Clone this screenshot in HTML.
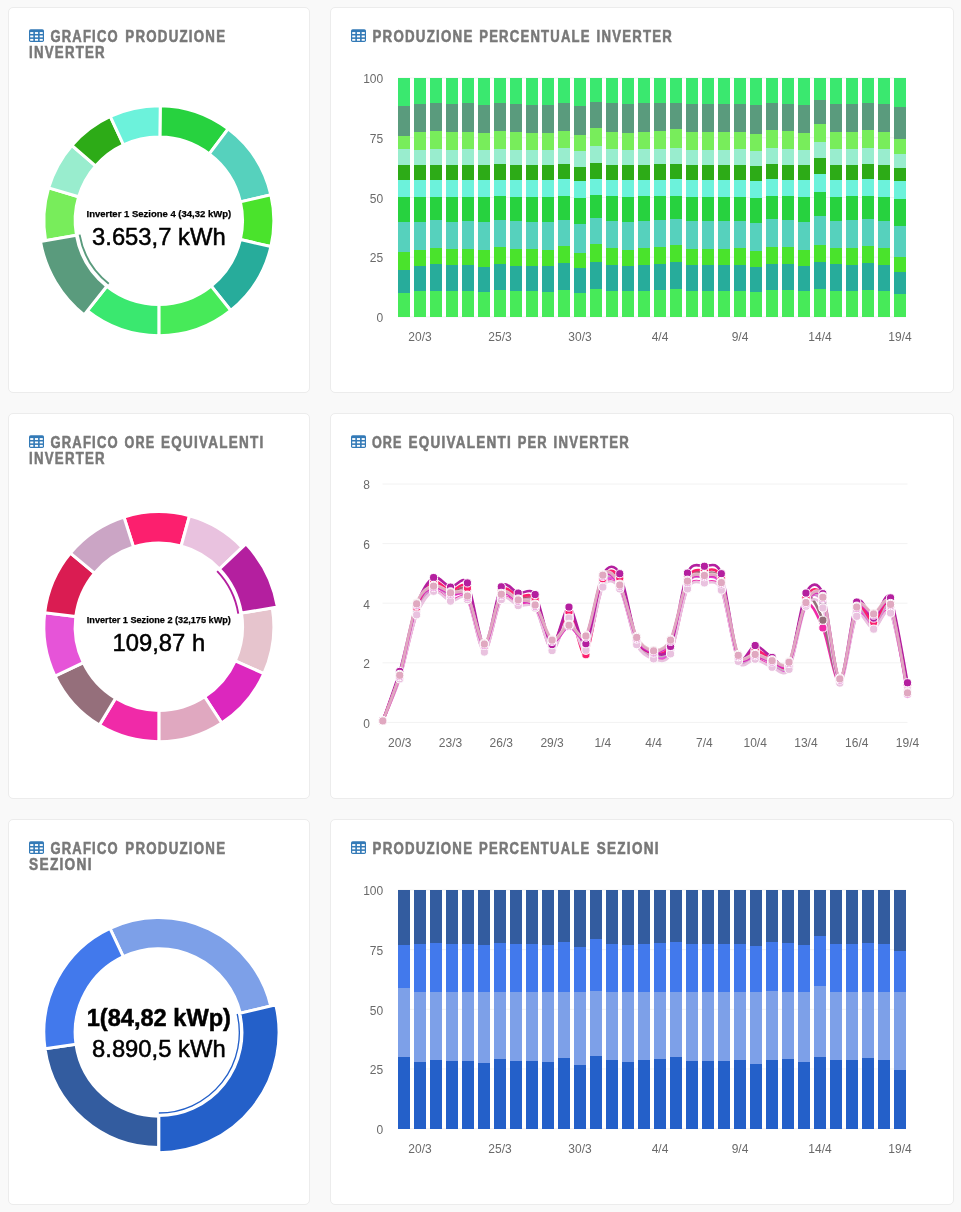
<!DOCTYPE html>
<html lang="it"><head><meta charset="utf-8"><meta name="viewport" content="width=961"><title>Dashboard produzione inverter</title>
<style>
html,body{margin:0;padding:0}
body{width:961px;height:1212px;background:#f9f9f9;overflow:hidden;position:relative;font-family:"Liberation Sans", Arial, Helvetica, sans-serif}
.card{position:absolute;box-sizing:border-box;background:#fff;border:1px solid #ececec;border-radius:5px;overflow:hidden}
.card svg{display:block;font-family:"Liberation Sans", Arial, Helvetica, sans-serif}
.ttl{font-size:16px;font-weight:700;fill:#787878;letter-spacing:1.5px;stroke:#787878;stroke-width:0.55px}
.ax text{font-size:12px;fill:#6a6a6a}
</style></head>
<body>
<section class="card" style="left:8px;top:7px;width:302px;height:386px"><svg width="300" height="384" viewBox="9 8 300 384"><g class="ico"><rect x="29" y="29.25" width="15" height="12.75" rx="1.7" fill="#337ab7"/><rect x="30.2" y="32.1" width="3.13" height="1.85" fill="#fff"/><rect x="30.2" y="35.5" width="3.13" height="1.85" fill="#fff"/><rect x="30.2" y="38.9" width="3.13" height="1.85" fill="#fff"/><rect x="34.93" y="32.1" width="3.13" height="1.85" fill="#fff"/><rect x="34.93" y="35.5" width="3.13" height="1.85" fill="#fff"/><rect x="34.93" y="38.9" width="3.13" height="1.85" fill="#fff"/><rect x="39.67" y="32.1" width="3.13" height="1.85" fill="#fff"/><rect x="39.67" y="35.5" width="3.13" height="1.85" fill="#fff"/><rect x="39.67" y="38.9" width="3.13" height="1.85" fill="#fff"/></g><text class="ttl"><tspan x="50.4" y="41.8" textLength="68.5" lengthAdjust="spacingAndGlyphs">GRAFICO</tspan> <tspan x="125.3" y="41.8" textLength="101" lengthAdjust="spacingAndGlyphs">PRODUZIONE</tspan> <tspan x="29.1" y="57.8" textLength="76.7" lengthAdjust="spacingAndGlyphs">INVERTER</tspan></text><g class="donut" stroke="#fff" stroke-width="3" stroke-linejoin="miter"><path d="M160.25 105.71A115 115 0 0 1 228.14 128.92L209.28 153.9A83.7 83.7 0 0 0 159.87 137.01Z" fill="#27d23f"/><path d="M228.14 128.92A115 115 0 0 1 270.9 194.83L240.4 201.87A83.7 83.7 0 0 0 209.28 153.9Z" fill="#56d1bd"/><path d="M270.9 194.83A115 115 0 0 1 270.9 246.57L240.4 239.53A83.7 83.7 0 0 0 240.4 201.87Z" fill="#4ae32c"/><path d="M270.9 246.57A115 115 0 0 1 230.75 310.45L211.18 286.02A83.7 83.7 0 0 0 240.4 239.53Z" fill="#27ac9b"/><path d="M230.75 310.45A115 115 0 0 1 158.85 335.7L158.85 304.4A83.7 83.7 0 0 0 211.18 286.02Z" fill="#47ea59"/><path d="M158.85 335.7A115 115 0 0 1 87.34 310.76L106.8 286.25A83.7 83.7 0 0 0 158.85 304.4Z" fill="#3ae86f"/><path d="M45.6 240.67A115 115 0 0 1 48.64 187.85L78.64 196.79A83.7 83.7 0 0 0 76.42 235.23Z" fill="#78ed5b"/><path d="M48.64 187.85A115 115 0 0 1 71.86 145.48L95.54 165.95A83.7 83.7 0 0 0 78.64 196.79Z" fill="#99edce"/><path d="M71.86 145.48A115 115 0 0 1 110.25 116.47L123.48 144.84A83.7 83.7 0 0 0 95.54 165.95Z" fill="#2dab17"/><path d="M110.25 116.47A115 115 0 0 1 160.25 105.71L159.87 137.01A83.7 83.7 0 0 0 123.48 144.84Z" fill="#6cf2db"/><path d="M84.11 314.83A120.2 120.2 0 0 1 40.48 241.57L76.42 235.23A83.7 83.7 0 0 0 106.8 286.25Z" fill="#5a9b7d"/></g><path d="M108.79 283.74A80.5 80.5 0 0 1 79.57 234.68" fill="none" stroke="#5a9b7d" stroke-width="1.9"/><text x="158.85" y="217" text-anchor="middle" font-size="9.5" font-weight="700" fill="#000" stroke="#000" stroke-width="0.25">Inverter 1 Sezione 4 (34,32 kWp)</text><text x="158.85" y="245.2" text-anchor="middle" font-size="23.8" font-weight="400" fill="#000" stroke="#000" stroke-width="0.5">3.653,7 kWh</text></svg></section>
<section class="card" style="left:330px;top:7px;width:624px;height:386px"><svg width="622" height="384" viewBox="331 8 622 384"><g class="ico"><rect x="351" y="29.25" width="15" height="12.75" rx="1.7" fill="#337ab7"/><rect x="352.2" y="32.1" width="3.13" height="1.85" fill="#fff"/><rect x="352.2" y="35.5" width="3.13" height="1.85" fill="#fff"/><rect x="352.2" y="38.9" width="3.13" height="1.85" fill="#fff"/><rect x="356.93" y="32.1" width="3.13" height="1.85" fill="#fff"/><rect x="356.93" y="35.5" width="3.13" height="1.85" fill="#fff"/><rect x="356.93" y="38.9" width="3.13" height="1.85" fill="#fff"/><rect x="361.67" y="32.1" width="3.13" height="1.85" fill="#fff"/><rect x="361.67" y="35.5" width="3.13" height="1.85" fill="#fff"/><rect x="361.67" y="38.9" width="3.13" height="1.85" fill="#fff"/></g><text class="ttl"><tspan x="372.5" y="41.8" textLength="101" lengthAdjust="spacingAndGlyphs">PRODUZIONE</tspan> <tspan x="479.2" y="41.8" textLength="111.6" lengthAdjust="spacingAndGlyphs">PERCENTUALE</tspan> <tspan x="596.6" y="41.8" textLength="76.4" lengthAdjust="spacingAndGlyphs">INVERTER</tspan></text><g stroke="#f2f2f2" stroke-width="1"><line x1="398" x2="906" y1="78" y2="78"/><line x1="398" x2="906" y1="137.72" y2="137.72"/><line x1="398" x2="906" y1="197.45" y2="197.45"/><line x1="398" x2="906" y1="257.17" y2="257.17"/><line x1="398" x2="906" y1="316.9" y2="316.9"/></g><g class="bars" shape-rendering="crispEdges"><rect x="398" y="78" width="11.8" height="27.63" fill="#3ae86f"/><rect x="398" y="105.63" width="11.8" height="30.07" fill="#5a9b7d"/><rect x="398" y="135.69" width="11.8" height="13.54" fill="#78ed5b"/><rect x="398" y="149.24" width="11.8" height="16.25" fill="#99edce"/><rect x="398" y="165.49" width="11.8" height="14.63" fill="#2dab17"/><rect x="398" y="180.11" width="11.8" height="17.06" fill="#6cf2db"/><rect x="398" y="197.18" width="11.8" height="24.38" fill="#27d23f"/><rect x="398" y="221.56" width="11.8" height="30.61" fill="#56d1bd"/><rect x="398" y="252.16" width="11.8" height="17.34" fill="#4ae32c"/><rect x="398" y="269.5" width="11.8" height="23.29" fill="#27ac9b"/><rect x="398" y="292.79" width="11.8" height="24.11" fill="#47ea59"/><rect x="414" y="78" width="11.8" height="26" fill="#3ae86f"/><rect x="414" y="104" width="11.8" height="28.44" fill="#5a9b7d"/><rect x="414" y="132.44" width="11.8" height="17.34" fill="#78ed5b"/><rect x="414" y="149.78" width="11.8" height="15.44" fill="#99edce"/><rect x="414" y="165.22" width="11.8" height="14.9" fill="#2dab17"/><rect x="414" y="180.11" width="11.8" height="16.52" fill="#6cf2db"/><rect x="414" y="196.64" width="11.8" height="24.92" fill="#27d23f"/><rect x="414" y="221.56" width="11.8" height="28.44" fill="#56d1bd"/><rect x="414" y="250" width="11.8" height="15.71" fill="#4ae32c"/><rect x="414" y="265.71" width="11.8" height="25.73" fill="#27ac9b"/><rect x="414" y="291.44" width="11.8" height="25.46" fill="#47ea59"/><rect x="430" y="78" width="11.8" height="25.46" fill="#3ae86f"/><rect x="430" y="103.46" width="11.8" height="27.9" fill="#5a9b7d"/><rect x="430" y="131.36" width="11.8" height="17.88" fill="#78ed5b"/><rect x="430" y="149.24" width="11.8" height="15.44" fill="#99edce"/><rect x="430" y="164.68" width="11.8" height="15.17" fill="#2dab17"/><rect x="430" y="179.84" width="11.8" height="16.79" fill="#6cf2db"/><rect x="430" y="196.64" width="11.8" height="23.84" fill="#27d23f"/><rect x="430" y="220.47" width="11.8" height="27.36" fill="#56d1bd"/><rect x="430" y="247.83" width="11.8" height="16.25" fill="#4ae32c"/><rect x="430" y="264.08" width="11.8" height="26.54" fill="#27ac9b"/><rect x="430" y="290.63" width="11.8" height="26.27" fill="#47ea59"/><rect x="446" y="78" width="11.8" height="26.27" fill="#3ae86f"/><rect x="446" y="104.27" width="11.8" height="28.17" fill="#5a9b7d"/><rect x="446" y="132.44" width="11.8" height="17.34" fill="#78ed5b"/><rect x="446" y="149.78" width="11.8" height="15.17" fill="#99edce"/><rect x="446" y="164.95" width="11.8" height="14.9" fill="#2dab17"/><rect x="446" y="179.84" width="11.8" height="16.79" fill="#6cf2db"/><rect x="446" y="196.64" width="11.8" height="24.92" fill="#27d23f"/><rect x="446" y="221.56" width="11.8" height="27.9" fill="#56d1bd"/><rect x="446" y="249.46" width="11.8" height="15.98" fill="#4ae32c"/><rect x="446" y="265.44" width="11.8" height="25.73" fill="#27ac9b"/><rect x="446" y="291.17" width="11.8" height="25.73" fill="#47ea59"/><rect x="462" y="78" width="11.8" height="25.46" fill="#3ae86f"/><rect x="462" y="103.46" width="11.8" height="28.44" fill="#5a9b7d"/><rect x="462" y="131.9" width="11.8" height="17.34" fill="#78ed5b"/><rect x="462" y="149.24" width="11.8" height="15.44" fill="#99edce"/><rect x="462" y="164.68" width="11.8" height="15.17" fill="#2dab17"/><rect x="462" y="179.84" width="11.8" height="16.79" fill="#6cf2db"/><rect x="462" y="196.64" width="11.8" height="24.38" fill="#27d23f"/><rect x="462" y="221.01" width="11.8" height="27.63" fill="#56d1bd"/><rect x="462" y="248.64" width="11.8" height="16.25" fill="#4ae32c"/><rect x="462" y="264.89" width="11.8" height="26.27" fill="#27ac9b"/><rect x="462" y="291.17" width="11.8" height="25.73" fill="#47ea59"/><rect x="478" y="78" width="11.8" height="26.54" fill="#3ae86f"/><rect x="478" y="104.54" width="11.8" height="28.71" fill="#5a9b7d"/><rect x="478" y="133.26" width="11.8" height="16.79" fill="#78ed5b"/><rect x="478" y="150.05" width="11.8" height="15.17" fill="#99edce"/><rect x="478" y="165.22" width="11.8" height="14.9" fill="#2dab17"/><rect x="478" y="180.11" width="11.8" height="16.79" fill="#6cf2db"/><rect x="478" y="196.91" width="11.8" height="25.19" fill="#27d23f"/><rect x="478" y="222.1" width="11.8" height="28.17" fill="#56d1bd"/><rect x="478" y="250.27" width="11.8" height="16.25" fill="#4ae32c"/><rect x="478" y="266.52" width="11.8" height="25.19" fill="#27ac9b"/><rect x="478" y="291.71" width="11.8" height="25.19" fill="#47ea59"/><rect x="494" y="78" width="11.8" height="25.46" fill="#3ae86f"/><rect x="494" y="103.46" width="11.8" height="27.63" fill="#5a9b7d"/><rect x="494" y="131.09" width="11.8" height="17.61" fill="#78ed5b"/><rect x="494" y="148.69" width="11.8" height="15.71" fill="#99edce"/><rect x="494" y="164.4" width="11.8" height="15.17" fill="#2dab17"/><rect x="494" y="179.57" width="11.8" height="16.79" fill="#6cf2db"/><rect x="494" y="196.37" width="11.8" height="23.84" fill="#27d23f"/><rect x="494" y="220.2" width="11.8" height="27.09" fill="#56d1bd"/><rect x="494" y="247.29" width="11.8" height="16.52" fill="#4ae32c"/><rect x="494" y="263.81" width="11.8" height="26.54" fill="#27ac9b"/><rect x="494" y="290.36" width="11.8" height="26.54" fill="#47ea59"/><rect x="510" y="78" width="11.8" height="26.27" fill="#3ae86f"/><rect x="510" y="104.27" width="11.8" height="27.9" fill="#5a9b7d"/><rect x="510" y="132.17" width="11.8" height="17.34" fill="#78ed5b"/><rect x="510" y="149.51" width="11.8" height="15.44" fill="#99edce"/><rect x="510" y="164.95" width="11.8" height="14.9" fill="#2dab17"/><rect x="510" y="179.84" width="11.8" height="16.79" fill="#6cf2db"/><rect x="510" y="196.64" width="11.8" height="24.38" fill="#27d23f"/><rect x="510" y="221.01" width="11.8" height="28.17" fill="#56d1bd"/><rect x="510" y="249.18" width="11.8" height="16.52" fill="#4ae32c"/><rect x="510" y="265.71" width="11.8" height="25.73" fill="#27ac9b"/><rect x="510" y="291.44" width="11.8" height="25.46" fill="#47ea59"/><rect x="526" y="78" width="11.8" height="26.54" fill="#3ae86f"/><rect x="526" y="104.54" width="11.8" height="28.44" fill="#5a9b7d"/><rect x="526" y="132.98" width="11.8" height="17.06" fill="#78ed5b"/><rect x="526" y="150.05" width="11.8" height="15.17" fill="#99edce"/><rect x="526" y="165.22" width="11.8" height="14.9" fill="#2dab17"/><rect x="526" y="180.11" width="11.8" height="16.79" fill="#6cf2db"/><rect x="526" y="196.91" width="11.8" height="24.65" fill="#27d23f"/><rect x="526" y="221.56" width="11.8" height="27.9" fill="#56d1bd"/><rect x="526" y="249.46" width="11.8" height="16.52" fill="#4ae32c"/><rect x="526" y="265.98" width="11.8" height="25.46" fill="#27ac9b"/><rect x="526" y="291.44" width="11.8" height="25.46" fill="#47ea59"/><rect x="542" y="78" width="11.8" height="26.54" fill="#3ae86f"/><rect x="542" y="104.54" width="11.8" height="28.44" fill="#5a9b7d"/><rect x="542" y="132.98" width="11.8" height="17.06" fill="#78ed5b"/><rect x="542" y="150.05" width="11.8" height="15.17" fill="#99edce"/><rect x="542" y="165.22" width="11.8" height="14.9" fill="#2dab17"/><rect x="542" y="180.11" width="11.8" height="17.06" fill="#6cf2db"/><rect x="542" y="197.18" width="11.8" height="24.92" fill="#27d23f"/><rect x="542" y="222.1" width="11.8" height="27.9" fill="#56d1bd"/><rect x="542" y="250" width="11.8" height="16.25" fill="#4ae32c"/><rect x="542" y="266.25" width="11.8" height="25.46" fill="#27ac9b"/><rect x="542" y="291.71" width="11.8" height="25.19" fill="#47ea59"/><rect x="558" y="78" width="11.8" height="25.46" fill="#3ae86f"/><rect x="558" y="103.46" width="11.8" height="27.09" fill="#5a9b7d"/><rect x="558" y="130.55" width="11.8" height="17.61" fill="#78ed5b"/><rect x="558" y="148.15" width="11.8" height="15.98" fill="#99edce"/><rect x="558" y="164.13" width="11.8" height="15.17" fill="#2dab17"/><rect x="558" y="179.3" width="11.8" height="16.79" fill="#6cf2db"/><rect x="558" y="196.1" width="11.8" height="23.56" fill="#27d23f"/><rect x="558" y="219.66" width="11.8" height="26.82" fill="#56d1bd"/><rect x="558" y="246.48" width="11.8" height="16.79" fill="#4ae32c"/><rect x="558" y="263.27" width="11.8" height="26.82" fill="#27ac9b"/><rect x="558" y="290.08" width="11.8" height="26.82" fill="#47ea59"/><rect x="574" y="78" width="11.8" height="27.63" fill="#3ae86f"/><rect x="574" y="105.63" width="11.8" height="29.52" fill="#5a9b7d"/><rect x="574" y="135.15" width="11.8" height="16.25" fill="#78ed5b"/><rect x="574" y="151.4" width="11.8" height="15.17" fill="#99edce"/><rect x="574" y="166.57" width="11.8" height="14.08" fill="#2dab17"/><rect x="574" y="180.66" width="11.8" height="17.61" fill="#6cf2db"/><rect x="574" y="198.26" width="11.8" height="25.46" fill="#27d23f"/><rect x="574" y="223.72" width="11.8" height="29.25" fill="#56d1bd"/><rect x="574" y="252.98" width="11.8" height="15.44" fill="#4ae32c"/><rect x="574" y="268.42" width="11.8" height="24.11" fill="#27ac9b"/><rect x="574" y="292.52" width="11.8" height="24.38" fill="#47ea59"/><rect x="590" y="78" width="11.8" height="23.84" fill="#3ae86f"/><rect x="590" y="101.84" width="11.8" height="25.73" fill="#5a9b7d"/><rect x="590" y="127.57" width="11.8" height="18.42" fill="#78ed5b"/><rect x="590" y="145.99" width="11.8" height="16.79" fill="#99edce"/><rect x="590" y="162.78" width="11.8" height="15.98" fill="#2dab17"/><rect x="590" y="178.76" width="11.8" height="16.25" fill="#6cf2db"/><rect x="590" y="195.01" width="11.8" height="23.02" fill="#27d23f"/><rect x="590" y="218.04" width="11.8" height="25.73" fill="#56d1bd"/><rect x="590" y="243.77" width="11.8" height="17.88" fill="#4ae32c"/><rect x="590" y="261.64" width="11.8" height="27.36" fill="#27ac9b"/><rect x="590" y="289" width="11.8" height="27.9" fill="#47ea59"/><rect x="606" y="78" width="11.8" height="25.46" fill="#3ae86f"/><rect x="606" y="103.46" width="11.8" height="28.17" fill="#5a9b7d"/><rect x="606" y="131.63" width="11.8" height="17.34" fill="#78ed5b"/><rect x="606" y="148.97" width="11.8" height="15.71" fill="#99edce"/><rect x="606" y="164.68" width="11.8" height="14.9" fill="#2dab17"/><rect x="606" y="179.57" width="11.8" height="16.79" fill="#6cf2db"/><rect x="606" y="196.37" width="11.8" height="24.38" fill="#27d23f"/><rect x="606" y="220.74" width="11.8" height="27.36" fill="#56d1bd"/><rect x="606" y="248.1" width="11.8" height="16.52" fill="#4ae32c"/><rect x="606" y="264.62" width="11.8" height="26" fill="#27ac9b"/><rect x="606" y="290.63" width="11.8" height="26.27" fill="#47ea59"/><rect x="622" y="78" width="11.8" height="26.27" fill="#3ae86f"/><rect x="622" y="104.27" width="11.8" height="28.71" fill="#5a9b7d"/><rect x="622" y="132.98" width="11.8" height="17.06" fill="#78ed5b"/><rect x="622" y="150.05" width="11.8" height="15.17" fill="#99edce"/><rect x="622" y="165.22" width="11.8" height="14.9" fill="#2dab17"/><rect x="622" y="180.11" width="11.8" height="17.06" fill="#6cf2db"/><rect x="622" y="197.18" width="11.8" height="24.65" fill="#27d23f"/><rect x="622" y="221.83" width="11.8" height="27.9" fill="#56d1bd"/><rect x="622" y="249.73" width="11.8" height="16.52" fill="#4ae32c"/><rect x="622" y="266.25" width="11.8" height="25.19" fill="#27ac9b"/><rect x="622" y="291.44" width="11.8" height="25.46" fill="#47ea59"/><rect x="638" y="78" width="11.8" height="25.46" fill="#3ae86f"/><rect x="638" y="103.46" width="11.8" height="28.17" fill="#5a9b7d"/><rect x="638" y="131.63" width="11.8" height="17.34" fill="#78ed5b"/><rect x="638" y="148.97" width="11.8" height="15.71" fill="#99edce"/><rect x="638" y="164.68" width="11.8" height="14.9" fill="#2dab17"/><rect x="638" y="179.57" width="11.8" height="16.79" fill="#6cf2db"/><rect x="638" y="196.37" width="11.8" height="24.38" fill="#27d23f"/><rect x="638" y="220.74" width="11.8" height="27.09" fill="#56d1bd"/><rect x="638" y="247.83" width="11.8" height="16.79" fill="#4ae32c"/><rect x="638" y="264.62" width="11.8" height="26" fill="#27ac9b"/><rect x="638" y="290.63" width="11.8" height="26.27" fill="#47ea59"/><rect x="654" y="78" width="11.8" height="25.46" fill="#3ae86f"/><rect x="654" y="103.46" width="11.8" height="27.63" fill="#5a9b7d"/><rect x="654" y="131.09" width="11.8" height="17.61" fill="#78ed5b"/><rect x="654" y="148.69" width="11.8" height="15.71" fill="#99edce"/><rect x="654" y="164.4" width="11.8" height="15.17" fill="#2dab17"/><rect x="654" y="179.57" width="11.8" height="16.79" fill="#6cf2db"/><rect x="654" y="196.37" width="11.8" height="23.84" fill="#27d23f"/><rect x="654" y="220.2" width="11.8" height="26.54" fill="#56d1bd"/><rect x="654" y="246.75" width="11.8" height="17.06" fill="#4ae32c"/><rect x="654" y="263.81" width="11.8" height="26.54" fill="#27ac9b"/><rect x="654" y="290.36" width="11.8" height="26.54" fill="#47ea59"/><rect x="670" y="78" width="11.8" height="24.65" fill="#3ae86f"/><rect x="670" y="102.65" width="11.8" height="26.54" fill="#5a9b7d"/><rect x="670" y="129.19" width="11.8" height="18.42" fill="#78ed5b"/><rect x="670" y="147.61" width="11.8" height="15.98" fill="#99edce"/><rect x="670" y="163.59" width="11.8" height="15.44" fill="#2dab17"/><rect x="670" y="179.03" width="11.8" height="16.52" fill="#6cf2db"/><rect x="670" y="195.55" width="11.8" height="23.29" fill="#27d23f"/><rect x="670" y="218.85" width="11.8" height="26" fill="#56d1bd"/><rect x="670" y="244.85" width="11.8" height="17.34" fill="#4ae32c"/><rect x="670" y="262.19" width="11.8" height="27.09" fill="#27ac9b"/><rect x="670" y="289.27" width="11.8" height="27.63" fill="#47ea59"/><rect x="686" y="78" width="11.8" height="26.27" fill="#3ae86f"/><rect x="686" y="104.27" width="11.8" height="28.17" fill="#5a9b7d"/><rect x="686" y="132.44" width="11.8" height="17.06" fill="#78ed5b"/><rect x="686" y="149.51" width="11.8" height="15.44" fill="#99edce"/><rect x="686" y="164.95" width="11.8" height="14.9" fill="#2dab17"/><rect x="686" y="179.84" width="11.8" height="16.79" fill="#6cf2db"/><rect x="686" y="196.64" width="11.8" height="24.65" fill="#27d23f"/><rect x="686" y="221.29" width="11.8" height="27.63" fill="#56d1bd"/><rect x="686" y="248.91" width="11.8" height="16.52" fill="#4ae32c"/><rect x="686" y="265.44" width="11.8" height="25.73" fill="#27ac9b"/><rect x="686" y="291.17" width="11.8" height="25.73" fill="#47ea59"/><rect x="702" y="78" width="11.8" height="26.27" fill="#3ae86f"/><rect x="702" y="104.27" width="11.8" height="28.17" fill="#5a9b7d"/><rect x="702" y="132.44" width="11.8" height="17.06" fill="#78ed5b"/><rect x="702" y="149.51" width="11.8" height="15.44" fill="#99edce"/><rect x="702" y="164.95" width="11.8" height="14.9" fill="#2dab17"/><rect x="702" y="179.84" width="11.8" height="16.79" fill="#6cf2db"/><rect x="702" y="196.64" width="11.8" height="24.65" fill="#27d23f"/><rect x="702" y="221.29" width="11.8" height="27.63" fill="#56d1bd"/><rect x="702" y="248.91" width="11.8" height="16.52" fill="#4ae32c"/><rect x="702" y="265.44" width="11.8" height="25.73" fill="#27ac9b"/><rect x="702" y="291.17" width="11.8" height="25.73" fill="#47ea59"/><rect x="718" y="78" width="11.8" height="26.27" fill="#3ae86f"/><rect x="718" y="104.27" width="11.8" height="28.17" fill="#5a9b7d"/><rect x="718" y="132.44" width="11.8" height="17.06" fill="#78ed5b"/><rect x="718" y="149.51" width="11.8" height="15.44" fill="#99edce"/><rect x="718" y="164.95" width="11.8" height="14.9" fill="#2dab17"/><rect x="718" y="179.84" width="11.8" height="16.79" fill="#6cf2db"/><rect x="718" y="196.64" width="11.8" height="24.38" fill="#27d23f"/><rect x="718" y="221.01" width="11.8" height="27.63" fill="#56d1bd"/><rect x="718" y="248.64" width="11.8" height="16.79" fill="#4ae32c"/><rect x="718" y="265.44" width="11.8" height="25.73" fill="#27ac9b"/><rect x="718" y="291.17" width="11.8" height="25.73" fill="#47ea59"/><rect x="734" y="78" width="11.8" height="25.73" fill="#3ae86f"/><rect x="734" y="103.73" width="11.8" height="28.17" fill="#5a9b7d"/><rect x="734" y="131.9" width="11.8" height="17.34" fill="#78ed5b"/><rect x="734" y="149.24" width="11.8" height="15.44" fill="#99edce"/><rect x="734" y="164.68" width="11.8" height="14.9" fill="#2dab17"/><rect x="734" y="179.57" width="11.8" height="17.06" fill="#6cf2db"/><rect x="734" y="196.64" width="11.8" height="24.11" fill="#27d23f"/><rect x="734" y="220.74" width="11.8" height="27.09" fill="#56d1bd"/><rect x="734" y="247.83" width="11.8" height="16.79" fill="#4ae32c"/><rect x="734" y="264.62" width="11.8" height="26" fill="#27ac9b"/><rect x="734" y="290.63" width="11.8" height="26.27" fill="#47ea59"/><rect x="750" y="78" width="11.8" height="27.36" fill="#3ae86f"/><rect x="750" y="105.36" width="11.8" height="28.98" fill="#5a9b7d"/><rect x="750" y="134.34" width="11.8" height="16.52" fill="#78ed5b"/><rect x="750" y="150.86" width="11.8" height="15.17" fill="#99edce"/><rect x="750" y="166.03" width="11.8" height="14.63" fill="#2dab17"/><rect x="750" y="180.66" width="11.8" height="17.06" fill="#6cf2db"/><rect x="750" y="197.72" width="11.8" height="25.19" fill="#27d23f"/><rect x="750" y="222.91" width="11.8" height="28.44" fill="#56d1bd"/><rect x="750" y="251.35" width="11.8" height="15.98" fill="#4ae32c"/><rect x="750" y="267.33" width="11.8" height="24.92" fill="#27ac9b"/><rect x="750" y="292.25" width="11.8" height="24.65" fill="#47ea59"/><rect x="766" y="78" width="11.8" height="24.92" fill="#3ae86f"/><rect x="766" y="102.92" width="11.8" height="26.82" fill="#5a9b7d"/><rect x="766" y="129.73" width="11.8" height="17.88" fill="#78ed5b"/><rect x="766" y="147.61" width="11.8" height="15.98" fill="#99edce"/><rect x="766" y="163.59" width="11.8" height="15.17" fill="#2dab17"/><rect x="766" y="178.76" width="11.8" height="16.79" fill="#6cf2db"/><rect x="766" y="195.55" width="11.8" height="23.84" fill="#27d23f"/><rect x="766" y="219.39" width="11.8" height="27.9" fill="#56d1bd"/><rect x="766" y="247.29" width="11.8" height="16.79" fill="#4ae32c"/><rect x="766" y="264.08" width="11.8" height="26" fill="#27ac9b"/><rect x="766" y="290.08" width="11.8" height="26.82" fill="#47ea59"/><rect x="782" y="78" width="11.8" height="25.73" fill="#3ae86f"/><rect x="782" y="103.73" width="11.8" height="27.63" fill="#5a9b7d"/><rect x="782" y="131.36" width="11.8" height="17.61" fill="#78ed5b"/><rect x="782" y="148.97" width="11.8" height="15.71" fill="#99edce"/><rect x="782" y="164.68" width="11.8" height="14.9" fill="#2dab17"/><rect x="782" y="179.57" width="11.8" height="16.79" fill="#6cf2db"/><rect x="782" y="196.37" width="11.8" height="24.11" fill="#27d23f"/><rect x="782" y="220.47" width="11.8" height="26.27" fill="#56d1bd"/><rect x="782" y="246.75" width="11.8" height="17.06" fill="#4ae32c"/><rect x="782" y="263.81" width="11.8" height="26.54" fill="#27ac9b"/><rect x="782" y="290.36" width="11.8" height="26.54" fill="#47ea59"/><rect x="798" y="78" width="11.8" height="26.54" fill="#3ae86f"/><rect x="798" y="104.54" width="11.8" height="28.44" fill="#5a9b7d"/><rect x="798" y="132.98" width="11.8" height="16.79" fill="#78ed5b"/><rect x="798" y="149.78" width="11.8" height="15.44" fill="#99edce"/><rect x="798" y="165.22" width="11.8" height="14.63" fill="#2dab17"/><rect x="798" y="179.84" width="11.8" height="17.06" fill="#6cf2db"/><rect x="798" y="196.91" width="11.8" height="24.92" fill="#27d23f"/><rect x="798" y="221.83" width="11.8" height="27.9" fill="#56d1bd"/><rect x="798" y="249.73" width="11.8" height="16.25" fill="#4ae32c"/><rect x="798" y="265.98" width="11.8" height="25.46" fill="#27ac9b"/><rect x="798" y="291.44" width="11.8" height="25.46" fill="#47ea59"/><rect x="814" y="78" width="11.8" height="21.94" fill="#3ae86f"/><rect x="814" y="99.94" width="11.8" height="23.56" fill="#5a9b7d"/><rect x="814" y="123.5" width="11.8" height="18.42" fill="#78ed5b"/><rect x="814" y="141.92" width="11.8" height="16.52" fill="#99edce"/><rect x="814" y="158.45" width="11.8" height="15.71" fill="#2dab17"/><rect x="814" y="174.16" width="11.8" height="17.61" fill="#6cf2db"/><rect x="814" y="191.76" width="11.8" height="24.38" fill="#27d23f"/><rect x="814" y="216.14" width="11.8" height="28.71" fill="#56d1bd"/><rect x="814" y="244.85" width="11.8" height="17.34" fill="#4ae32c"/><rect x="814" y="262.19" width="11.8" height="27.09" fill="#27ac9b"/><rect x="814" y="289.27" width="11.8" height="27.63" fill="#47ea59"/><rect x="830" y="78" width="11.8" height="25.73" fill="#3ae86f"/><rect x="830" y="103.73" width="11.8" height="27.9" fill="#5a9b7d"/><rect x="830" y="131.63" width="11.8" height="17.34" fill="#78ed5b"/><rect x="830" y="148.97" width="11.8" height="15.71" fill="#99edce"/><rect x="830" y="164.68" width="11.8" height="14.9" fill="#2dab17"/><rect x="830" y="179.57" width="11.8" height="17.06" fill="#6cf2db"/><rect x="830" y="196.64" width="11.8" height="24.11" fill="#27d23f"/><rect x="830" y="220.74" width="11.8" height="26.82" fill="#56d1bd"/><rect x="830" y="247.56" width="11.8" height="16.79" fill="#4ae32c"/><rect x="830" y="264.35" width="11.8" height="26.27" fill="#27ac9b"/><rect x="830" y="290.63" width="11.8" height="26.27" fill="#47ea59"/><rect x="846" y="78" width="11.8" height="25.73" fill="#3ae86f"/><rect x="846" y="103.73" width="11.8" height="28.17" fill="#5a9b7d"/><rect x="846" y="131.9" width="11.8" height="17.34" fill="#78ed5b"/><rect x="846" y="149.24" width="11.8" height="15.44" fill="#99edce"/><rect x="846" y="164.68" width="11.8" height="14.9" fill="#2dab17"/><rect x="846" y="179.57" width="11.8" height="16.79" fill="#6cf2db"/><rect x="846" y="196.37" width="11.8" height="24.11" fill="#27d23f"/><rect x="846" y="220.47" width="11.8" height="27.36" fill="#56d1bd"/><rect x="846" y="247.83" width="11.8" height="16.79" fill="#4ae32c"/><rect x="846" y="264.62" width="11.8" height="26" fill="#27ac9b"/><rect x="846" y="290.63" width="11.8" height="26.27" fill="#47ea59"/><rect x="862" y="78" width="11.8" height="24.92" fill="#3ae86f"/><rect x="862" y="102.92" width="11.8" height="27.36" fill="#5a9b7d"/><rect x="862" y="130.28" width="11.8" height="17.61" fill="#78ed5b"/><rect x="862" y="147.88" width="11.8" height="15.98" fill="#99edce"/><rect x="862" y="163.86" width="11.8" height="15.17" fill="#2dab17"/><rect x="862" y="179.03" width="11.8" height="16.79" fill="#6cf2db"/><rect x="862" y="195.82" width="11.8" height="23.29" fill="#27d23f"/><rect x="862" y="219.12" width="11.8" height="26.54" fill="#56d1bd"/><rect x="862" y="245.66" width="11.8" height="17.06" fill="#4ae32c"/><rect x="862" y="262.73" width="11.8" height="27.09" fill="#27ac9b"/><rect x="862" y="289.81" width="11.8" height="27.09" fill="#47ea59"/><rect x="878" y="78" width="11.8" height="25.73" fill="#3ae86f"/><rect x="878" y="103.73" width="11.8" height="28.17" fill="#5a9b7d"/><rect x="878" y="131.9" width="11.8" height="17.34" fill="#78ed5b"/><rect x="878" y="149.24" width="11.8" height="15.44" fill="#99edce"/><rect x="878" y="164.68" width="11.8" height="14.9" fill="#2dab17"/><rect x="878" y="179.57" width="11.8" height="17.06" fill="#6cf2db"/><rect x="878" y="196.64" width="11.8" height="24.11" fill="#27d23f"/><rect x="878" y="220.74" width="11.8" height="27.09" fill="#56d1bd"/><rect x="878" y="247.83" width="11.8" height="16.79" fill="#4ae32c"/><rect x="878" y="264.62" width="11.8" height="26" fill="#27ac9b"/><rect x="878" y="290.63" width="11.8" height="26.27" fill="#47ea59"/><rect x="894" y="78" width="11.8" height="29.25" fill="#3ae86f"/><rect x="894" y="107.25" width="11.8" height="31.42" fill="#5a9b7d"/><rect x="894" y="138.67" width="11.8" height="14.9" fill="#78ed5b"/><rect x="894" y="153.57" width="11.8" height="14.36" fill="#99edce"/><rect x="894" y="167.93" width="11.8" height="13" fill="#2dab17"/><rect x="894" y="180.93" width="11.8" height="18.15" fill="#6cf2db"/><rect x="894" y="199.08" width="11.8" height="27.09" fill="#27d23f"/><rect x="894" y="226.16" width="11.8" height="31.15" fill="#56d1bd"/><rect x="894" y="257.31" width="11.8" height="14.63" fill="#4ae32c"/><rect x="894" y="271.94" width="11.8" height="22.48" fill="#27ac9b"/><rect x="894" y="294.42" width="11.8" height="22.48" fill="#47ea59"/></g><g class="ax" text-anchor="end"><text x="383.2" y="83.2">100</text><text x="383.2" y="142.92">75</text><text x="383.2" y="202.65">50</text><text x="383.2" y="262.37">25</text><text x="383.2" y="322.1">0</text></g><g class="ax" text-anchor="middle"><text x="420" y="340.8">20/3</text><text x="500" y="340.8">25/3</text><text x="580" y="340.8">30/3</text><text x="660" y="340.8">4/4</text><text x="740" y="340.8">9/4</text><text x="820" y="340.8">14/4</text><text x="900" y="340.8">19/4</text></g></svg></section>
<section class="card" style="left:8px;top:413px;width:302px;height:386px"><svg width="300" height="384" viewBox="9 414 300 384"><g class="ico"><rect x="29" y="435.25" width="15" height="12.75" rx="1.7" fill="#337ab7"/><rect x="30.2" y="438.1" width="3.13" height="1.85" fill="#fff"/><rect x="30.2" y="441.5" width="3.13" height="1.85" fill="#fff"/><rect x="30.2" y="444.9" width="3.13" height="1.85" fill="#fff"/><rect x="34.93" y="438.1" width="3.13" height="1.85" fill="#fff"/><rect x="34.93" y="441.5" width="3.13" height="1.85" fill="#fff"/><rect x="34.93" y="444.9" width="3.13" height="1.85" fill="#fff"/><rect x="39.67" y="438.1" width="3.13" height="1.85" fill="#fff"/><rect x="39.67" y="441.5" width="3.13" height="1.85" fill="#fff"/><rect x="39.67" y="444.9" width="3.13" height="1.85" fill="#fff"/></g><text class="ttl"><tspan x="50.4" y="447.8" textLength="68.5" lengthAdjust="spacingAndGlyphs">GRAFICO</tspan> <tspan x="124.6" y="447.8" textLength="30.7" lengthAdjust="spacingAndGlyphs">ORE</tspan> <tspan x="161" y="447.8" textLength="103.5" lengthAdjust="spacingAndGlyphs">EQUIVALENTI</tspan> <tspan x="29.1" y="463.8" textLength="76.7" lengthAdjust="spacingAndGlyphs">INVERTER</tspan></text><g class="donut" stroke="#fff" stroke-width="3" stroke-linejoin="miter"><path d="M123.98 517.11A115 115 0 0 1 189.49 515.86L181.15 546.02A83.7 83.7 0 0 0 133.47 546.94Z" fill="#fc1f6e"/><path d="M189.49 515.86A115 115 0 0 1 242.13 547.39L219.46 568.98A83.7 83.7 0 0 0 181.15 546.02Z" fill="#e9c2df"/><path d="M272.31 607.92A115 115 0 0 1 263.83 673.66L235.25 660.88A83.7 83.7 0 0 0 241.43 613.03Z" fill="#e6c4cd"/><path d="M263.83 673.66A115 115 0 0 1 221.74 722.98L204.62 696.78A83.7 83.7 0 0 0 235.25 660.88Z" fill="#dc27be"/><path d="M221.74 722.98A115 115 0 0 1 158.85 741.7L158.85 710.4A83.7 83.7 0 0 0 204.62 696.78Z" fill="#e0a8c0"/><path d="M158.85 741.7A115 115 0 0 1 99.36 725.12L115.55 698.33A83.7 83.7 0 0 0 158.85 710.4Z" fill="#f02aa8"/><path d="M99.36 725.12A115 115 0 0 1 55.01 676.12L83.27 662.67A83.7 83.7 0 0 0 115.55 698.33Z" fill="#956f7b"/><path d="M55.01 676.12A115 115 0 0 1 44.7 612.78L75.77 616.57A83.7 83.7 0 0 0 83.27 662.67Z" fill="#e654d8"/><path d="M44.7 612.78A115 115 0 0 1 70.43 553.16L94.5 573.18A83.7 83.7 0 0 0 75.77 616.57Z" fill="#da1c52"/><path d="M70.43 553.16A115 115 0 0 1 123.98 517.11L133.47 546.94A83.7 83.7 0 0 0 94.5 573.18Z" fill="#cba5c5"/><path d="M245.9 543.81A120.2 120.2 0 0 1 277.44 607.07L241.43 613.03A83.7 83.7 0 0 0 219.46 568.98Z" fill="#b41f9f"/></g><path d="M217.15 571.19A80.5 80.5 0 0 1 238.27 613.55" fill="none" stroke="#b41f9f" stroke-width="1.9"/><text x="158.85" y="623" text-anchor="middle" font-size="9.15" font-weight="700" fill="#000" stroke="#000" stroke-width="0.25">Inverter 1 Sezione 2 (32,175 kWp)</text><text x="158.85" y="651.2" text-anchor="middle" font-size="23.8" font-weight="400" fill="#000" stroke="#000" stroke-width="0.5">109,87 h</text></svg></section>
<section class="card" style="left:330px;top:413px;width:624px;height:386px"><svg width="622" height="384" viewBox="331 414 622 384"><g class="ico"><rect x="351" y="435.25" width="15" height="12.75" rx="1.7" fill="#337ab7"/><rect x="352.2" y="438.1" width="3.13" height="1.85" fill="#fff"/><rect x="352.2" y="441.5" width="3.13" height="1.85" fill="#fff"/><rect x="352.2" y="444.9" width="3.13" height="1.85" fill="#fff"/><rect x="356.93" y="438.1" width="3.13" height="1.85" fill="#fff"/><rect x="356.93" y="441.5" width="3.13" height="1.85" fill="#fff"/><rect x="356.93" y="444.9" width="3.13" height="1.85" fill="#fff"/><rect x="361.67" y="438.1" width="3.13" height="1.85" fill="#fff"/><rect x="361.67" y="441.5" width="3.13" height="1.85" fill="#fff"/><rect x="361.67" y="444.9" width="3.13" height="1.85" fill="#fff"/></g><text class="ttl"><tspan x="371.9" y="447.8" textLength="30.8" lengthAdjust="spacingAndGlyphs">ORE</tspan> <tspan x="408.4" y="447.8" textLength="103.6" lengthAdjust="spacingAndGlyphs">EQUIVALENTI</tspan> <tspan x="517.7" y="447.8" textLength="30.2" lengthAdjust="spacingAndGlyphs">PER</tspan> <tspan x="553.6" y="447.8" textLength="76.4" lengthAdjust="spacingAndGlyphs">INVERTER</tspan></text><g stroke="#f2f2f2" stroke-width="1"><line x1="382.5" x2="907.5" y1="484" y2="484"/><line x1="382.5" x2="907.5" y1="543.6" y2="543.6"/><line x1="382.5" x2="907.5" y1="603.2" y2="603.2"/><line x1="382.5" x2="907.5" y1="662.8" y2="662.8"/><line x1="382.5" x2="907.5" y1="722.4" y2="722.4"/></g><g class="lines" fill="none" stroke-width="2.6" stroke-linecap="round"><path d="M382.8,720.91Q396.34,688.7 399.73,678C404.8,661.95 411.57,627.07 416.65,613.93C421.73,600.79 428.5,592.44 433.58,590.39C438.66,588.33 445.43,598.97 450.5,600.22C455.58,601.47 462.35,591.09 467.43,598.73C472.51,606.37 479.28,651.18 484.35,651.18C489.43,651.18 496.2,605.7 501.28,598.73C506.36,591.76 513.13,603.44 518.21,604.69C523.28,605.94 530.05,600.32 535.13,607.07C540.21,613.82 546.98,648.17 552.06,649.69C557.14,651.21 563.91,617.25 568.98,617.21C574.06,617.16 580.83,654.04 585.91,649.39C590.99,644.74 597.76,595.42 602.84,586.21C607.91,577.01 614.68,579.37 619.76,588C624.84,596.63 631.61,633.22 636.69,643.73C641.76,654.23 648.54,656.65 653.61,658.03C658.69,659.42 665.46,663.47 670.54,652.97C675.62,642.46 682.39,598.64 687.46,588C692.54,577.36 699.31,581.86 704.39,582.04C709.47,582.22 716.24,577.44 721.32,589.19C726.39,600.95 733.16,650.05 738.24,660.42C743.32,670.79 750.09,657.44 755.17,658.33C760.25,659.22 767.02,664.86 772.09,666.38C777.17,667.9 783.94,677.63 789.02,668.46C794.1,659.3 800.87,611.37 805.95,605.29C811.02,599.21 817.79,616.4 822.87,627.93C827.95,639.47 834.72,684.05 839.8,682.17C844.87,680.29 851.64,623.51 856.72,615.42C861.8,607.33 868.57,628.72 873.65,628.23C878.73,627.74 885.5,603.07 890.57,612.14Q893.96,618.19 907.5,688.73" stroke="#f02aa8"/><path d="M382.8,720.91Q396.34,686.05 399.73,674.84C404.8,658.02 411.57,622.58 416.65,608.77C421.73,594.96 428.5,585.17 433.58,582.76C438.66,580.35 445.43,591.51 450.5,592.71C455.58,593.91 462.35,582.53 467.43,590.74C472.51,598.96 479.28,647.36 484.35,647.48C489.43,647.6 496.2,598.91 501.28,591.55C506.36,584.18 513.13,596.98 518.21,598.37C523.28,599.77 530.05,593.95 535.13,600.85C540.21,607.74 546.98,642.4 552.06,644.35C557.14,646.31 563.91,614.19 568.98,613.9C574.06,613.6 580.83,647.4 585.91,642.39C590.99,637.37 597.76,589.89 602.84,580.46C607.91,571.03 614.68,570.54 619.76,579.51C624.84,588.48 631.61,629 636.69,640.27C641.76,651.54 648.54,653.76 653.61,654.63C658.69,655.51 665.46,657.46 670.54,646.11C675.62,634.76 682.39,589.91 687.46,578.97C692.54,568.04 699.31,572.86 704.39,573.22C709.47,573.58 716.24,568.7 721.32,581.39C726.39,594.07 733.16,647.41 738.24,657.79C743.32,668.18 750.09,650.01 755.17,650.61C760.25,651.21 767.02,659.55 772.09,661.79C777.17,664.02 783.94,675.06 789.02,665.51C794.1,655.96 800.87,604.93 805.95,598.13C811.02,591.34 817.79,607.78 822.87,620.19C827.95,632.59 834.72,682.61 839.8,680.83C844.87,679.05 851.64,617.51 856.72,608.33C861.8,599.14 868.57,620.23 873.65,619.59C878.73,618.95 885.5,593.87 890.57,604.06Q893.96,610.86 907.5,687.53" stroke="#956f7b"/><path d="M382.8,720.91Q396.34,687.37 399.73,676.48C404.8,660.14 411.57,625.39 416.65,612.02C421.73,598.65 428.5,589.72 433.58,587.35C438.66,584.98 445.43,595.14 450.5,596.23C455.58,597.31 462.35,586.51 467.43,594.59C472.51,602.66 479.28,649.89 484.35,650.05C489.43,650.2 496.2,602.95 501.28,595.63C506.36,588.31 513.13,599.94 518.21,601.23C523.28,602.53 530.05,597.28 535.13,604.27C540.21,611.27 546.98,645.64 552.06,647.87C557.14,650.11 563.91,619.52 568.98,619.17C574.06,618.82 580.83,650.83 585.91,645.55C590.99,640.26 597.76,593.08 602.84,583.95C607.91,574.82 614.68,575.93 619.76,584.66C624.84,593.39 631.61,631.38 636.69,642.15C641.76,652.92 648.54,655.21 653.61,656.45C658.69,657.7 665.46,661.29 670.54,650.43C675.62,639.58 682.39,595.09 687.46,584.1C692.54,573.1 699.31,576.92 704.39,577.12C709.47,577.33 716.24,573.04 721.32,585.44C726.39,597.84 733.16,649.4 738.24,659.79C743.32,670.18 750.09,654.1 755.17,654.72C760.25,655.35 767.02,662.05 772.09,663.96C777.17,665.88 783.94,676.68 789.02,667.48C794.1,658.27 800.87,612.27 805.95,602.6C811.02,592.94 817.79,591.15 822.87,603.02C827.95,614.89 834.72,680.3 839.8,681.75C844.87,683.21 851.64,621.3 856.72,612.74C861.8,604.17 868.57,625.38 873.65,624.63C878.73,623.88 885.5,597.93 890.57,607.73Q893.96,614.26 907.5,689.95" stroke="#e654d8"/><path d="M382.8,720.91Q396.34,686.7 399.73,675.52C404.8,658.77 411.57,622.95 416.65,609.19C421.73,595.43 428.5,585.98 433.58,583.77C438.66,581.56 445.43,593.21 450.5,594.44C455.58,595.67 462.35,583.96 467.43,591.97C472.51,599.97 479.28,647.66 484.35,647.78C489.43,647.91 496.2,599.99 501.28,592.8C506.36,585.61 513.13,598.55 518.21,599.86C523.28,601.18 530.05,594.81 535.13,601.56C540.21,608.31 546.98,642.7 552.06,644.86C557.14,647.02 563.91,616.14 568.98,615.98C574.06,615.83 580.83,649.1 585.91,643.85C590.99,638.59 597.76,590.46 602.84,580.97C607.91,571.47 614.68,571.52 619.76,580.55C624.84,589.58 631.61,629.96 636.69,641.17C641.76,652.37 648.54,654.44 653.61,655.26C658.69,656.08 665.46,657.85 670.54,646.62C675.62,635.39 682.39,591.11 687.46,580.4C692.54,569.69 699.31,574.92 704.39,575.22C709.47,575.51 716.24,569.94 721.32,582.37C726.39,594.8 733.16,647.6 738.24,658.06C743.32,668.53 750.09,651.42 755.17,652.13C760.25,652.85 767.02,660.78 772.09,662.83C777.17,664.88 783.94,675.39 789.02,665.81C794.1,656.23 800.87,608.7 805.95,598.97C811.02,589.24 817.79,588.6 822.87,600.94C827.95,613.27 834.72,680 839.8,681.19C844.87,682.38 851.64,617.91 856.72,608.86C861.8,599.81 868.57,621.31 873.65,620.87C878.73,620.43 885.5,595.81 890.57,605.91Q893.96,612.64 907.5,688.19" stroke="#da1c52"/><path d="M382.8,720.91Q396.34,686.79 399.73,675.7C404.8,659.07 411.57,623.4 416.65,609.99C421.73,596.59 428.5,588.45 433.58,586.33C438.66,584.22 445.43,595.02 450.5,595.9C455.58,596.78 462.35,584.28 467.43,592.2C472.51,600.13 479.28,648.3 484.35,648.73C489.43,649.17 496.2,602.34 501.28,595.12C506.36,587.91 513.13,599.58 518.21,600.61C523.28,601.63 530.05,595.06 535.13,601.95C540.21,608.84 546.98,643.99 552.06,646.53C557.14,649.06 563.91,619.19 568.98,618.85C574.06,618.5 580.83,649.8 585.91,644.23C590.99,638.66 597.76,590.85 602.84,581.71C607.91,572.58 614.68,574.28 619.76,583.32C624.84,592.37 631.61,631.19 636.69,642C641.76,652.81 648.54,654.47 653.61,655.38C658.69,656.29 665.46,658.89 670.54,648.08C675.62,637.27 682.39,594.07 687.46,583.32C692.54,572.58 699.31,576.53 704.39,576.44C709.47,576.35 716.24,570.35 721.32,582.73C726.39,595.1 733.16,648.2 738.24,658.96C743.32,669.71 750.09,653.79 755.17,654.43C760.25,655.06 767.02,661.43 772.09,663.19C777.17,664.95 783.94,675.45 789.02,666.17C794.1,656.88 800.87,610.8 805.95,601.29C811.02,591.79 817.79,590.79 822.87,602.78C827.95,614.78 834.72,680.14 839.8,681.25C844.87,682.35 851.64,618.8 856.72,610.17C861.8,601.55 868.57,624.17 873.65,623.73C878.73,623.29 885.5,597.53 890.57,607.22Q893.96,613.68 907.5,688.34" stroke="#cba5c5"/><path d="M382.8,720.91Q396.34,684.7 399.73,673.35C404.8,656.32 411.57,621.07 416.65,607.4C421.73,593.73 428.5,584.71 433.58,582.22C438.66,579.73 445.43,589.94 450.5,590.8C455.58,591.67 462.35,579.6 467.43,588C472.51,596.4 479.28,646.36 484.35,646.8C489.43,647.23 496.2,598.48 501.28,590.89C506.36,583.31 513.13,595.05 518.21,596.23C523.28,597.4 530.05,591.6 535.13,598.73C540.21,605.86 546.98,641.78 552.06,643.79C557.14,645.8 563.91,610.5 568.98,612.14C574.06,613.78 580.83,659.76 585.91,654.75C590.99,649.75 597.76,590.28 602.84,578.79C607.91,567.31 614.68,569.08 619.76,578.17C624.84,587.26 631.61,628.18 636.69,639.41C641.76,650.64 648.54,652.22 653.61,653.03C658.69,653.83 665.46,656.02 670.54,644.8C675.62,633.58 682.39,589.38 687.46,578.23C692.54,567.08 699.31,570.45 704.39,570.48C709.47,570.51 716.24,565.36 721.32,578.41C726.39,591.45 733.16,646.75 738.24,657.44C743.32,668.12 750.09,649.26 755.17,649.63C760.25,650 767.02,657.69 772.09,659.91C777.17,662.13 783.94,673.79 789.02,664.44C794.1,655.09 800.87,607.62 805.95,597.6C811.02,587.57 817.79,585.24 822.87,597.6C827.95,609.95 834.72,678.58 839.8,679.96C844.87,681.35 851.64,615.46 856.72,606.81C861.8,598.15 868.57,623.03 873.65,622.27C878.73,621.51 885.5,592.24 890.57,601.74Q893.96,608.07 907.5,685.6" stroke="#fc1f6e"/><path d="M382.8,720.91Q396.34,689.5 399.73,678.89C404.8,662.98 411.57,627.96 416.65,614.82C421.73,601.68 428.5,593.34 433.58,591.28C438.66,589.22 445.43,599.86 450.5,601.11C455.58,602.37 462.35,591.98 467.43,599.62C472.51,607.27 479.28,652.07 484.35,652.07C489.43,652.07 496.2,606.6 501.28,599.62C506.36,592.65 513.13,604.33 518.21,605.58C523.28,606.84 530.05,601.22 535.13,607.97C540.21,614.72 546.98,649.06 552.06,650.58C557.14,652.1 563.91,618.14 568.98,618.1C574.06,618.06 580.83,654.93 585.91,650.28C590.99,645.64 597.76,596.32 602.84,587.11C607.91,577.9 614.68,580.27 619.76,588.9C624.84,597.52 631.61,634.12 636.69,644.62C641.76,655.13 648.54,657.54 653.61,658.93C658.69,660.31 665.46,664.36 670.54,653.86C675.62,643.36 682.39,599.53 687.46,588.9C692.54,578.26 699.31,582.76 704.39,582.94C709.47,583.11 716.24,578.33 721.32,590.09C726.39,601.84 733.16,650.94 738.24,661.31C743.32,671.68 750.09,658.33 755.17,659.22C760.25,660.12 767.02,665.75 772.09,667.27C777.17,668.79 783.94,678.52 789.02,669.36C794.1,660.19 800.87,615.39 805.95,606.18C811.02,596.97 817.79,596.44 822.87,607.97C827.95,619.5 834.72,681.81 839.8,683.06C844.87,684.32 851.64,624.4 856.72,616.31C861.8,608.22 868.57,629.62 873.65,629.13C878.73,628.63 885.5,603.96 890.57,613.03Q893.96,619.08 907.5,689.62" stroke="#e9c2df"/><path d="M382.8,720.91Q396.34,683 399.73,671.44C404.8,654.1 411.57,619.37 416.65,605.29C421.73,591.21 428.5,580.3 433.58,577.57C438.66,574.85 445.43,586.3 450.5,587.11C455.58,587.91 462.35,574.26 467.43,582.94C472.51,591.61 479.28,644.34 484.35,644.92C489.43,645.5 496.2,594.59 501.28,586.81C506.36,579.03 513.13,591.91 518.21,593.07C523.28,594.23 530.05,586.82 535.13,594.56C540.21,602.29 546.98,642.74 552.06,644.62C557.14,646.5 563.91,607.21 568.98,607.07C574.06,606.94 580.83,648.56 585.91,643.73C590.99,638.9 597.76,585.39 602.84,574.89C607.91,564.39 614.68,564.09 619.76,573.7C624.84,583.31 631.61,627.07 636.69,638.96C641.76,650.85 648.54,651.85 653.61,652.97C658.69,654.08 665.46,658.39 670.54,646.41C675.62,634.43 682.39,585.13 687.46,573.1C692.54,561.08 699.31,566.16 704.39,566.25C709.47,566.34 716.24,560.11 721.32,573.7C726.39,587.29 733.16,646.07 738.24,656.84C743.32,667.61 750.09,645.43 755.17,645.52C760.25,645.61 767.02,654.75 772.09,657.44C777.17,660.12 783.94,673.05 789.02,663.4C794.1,653.74 800.87,603.53 805.95,593.07C811.02,582.61 817.79,580.7 822.87,593.66C827.95,606.63 834.72,678.24 839.8,679.49C844.87,680.74 851.64,611.22 856.72,602.01C861.8,592.8 868.57,618.73 873.65,618.1C878.73,617.47 885.5,588.14 890.57,597.84Q893.96,604.3 907.5,682.77" stroke="#b41f9f"/><path d="M382.8,720.91Q396.34,686.22 399.73,674.42C404.8,656.72 411.57,616.27 416.65,602.9C421.73,589.54 428.5,586.97 433.58,585.32C438.66,583.67 445.43,590.4 450.5,591.88C455.58,593.35 462.35,587.47 467.43,595.15C472.51,602.84 479.28,643.4 484.35,643.13C489.43,642.86 496.2,599.98 501.28,593.37C506.36,586.75 513.13,597.42 518.21,599.03C523.28,600.64 530.05,598.06 535.13,604.09C540.21,610.13 546.98,636.22 552.06,639.26C557.14,642.3 563.91,624.98 568.98,624.36C574.06,623.73 580.83,642.6 585.91,635.09C590.99,627.58 597.76,581.94 602.84,574.29C607.91,566.65 614.68,574.79 619.76,584.13C624.84,593.47 631.61,626.7 636.69,636.58C641.76,646.45 648.54,649.58 653.61,649.99C658.69,650.39 665.46,649.72 670.54,639.26C675.62,628.8 682.39,589.95 687.46,580.25C692.54,570.55 699.31,574.37 704.39,574.59C709.47,574.82 716.24,569.76 721.32,581.74C726.39,593.72 733.16,643.68 738.24,654.46C743.32,665.23 750.09,652.76 755.17,653.56C760.25,654.37 767.02,658.66 772.09,659.82C777.17,660.98 783.94,670.03 789.02,661.31C794.1,652.59 800.87,611.45 805.95,601.71C811.02,591.97 817.79,584.9 822.87,596.35C827.95,607.79 834.72,676.52 839.8,678C844.87,679.47 851.64,615.92 856.72,606.18C861.8,596.44 868.57,613.44 873.65,613.03C878.73,612.63 885.5,591.65 890.57,603.5Q893.96,611.39 907.5,692" stroke="#e6c4cd"/><path d="M382.8,720.91Q396.34,688.1 399.73,676.51C404.8,659.12 411.57,618.35 416.65,604.99C421.73,591.62 428.5,589.06 433.58,587.41C438.66,585.75 445.43,592.49 450.5,593.96C455.58,595.44 462.35,589.55 467.43,597.24C472.51,604.93 479.28,645.49 484.35,645.22C489.43,644.95 496.2,602.07 501.28,595.45C506.36,588.84 513.13,599.5 518.21,601.11C523.28,602.72 530.05,600.15 535.13,606.18C540.21,612.21 546.98,638.3 552.06,641.34C557.14,644.38 563.91,627.07 568.98,626.44C574.06,625.82 580.83,644.68 585.91,637.17C590.99,629.66 597.76,584.02 602.84,576.38C607.91,568.74 614.68,576.87 619.76,586.21C624.84,595.56 631.61,628.78 636.69,638.66C641.76,648.54 648.54,651.67 653.61,652.07C658.69,652.47 665.46,651.8 670.54,641.34C675.62,630.88 682.39,592.04 687.46,582.34C692.54,572.64 699.31,576.45 704.39,576.68C709.47,576.9 716.24,571.85 721.32,583.83C726.39,595.81 733.16,645.77 738.24,656.54C743.32,667.31 750.09,654.84 755.17,655.65C760.25,656.45 767.02,660.74 772.09,661.91C777.17,663.07 783.94,672.11 789.02,663.4C794.1,654.68 800.87,613.54 805.95,603.8C811.02,594.05 817.79,586.99 822.87,598.43C827.95,609.88 834.72,678.61 839.8,680.08C844.87,681.56 851.64,618.01 856.72,608.27C861.8,598.52 868.57,615.52 873.65,615.12C878.73,614.72 885.5,593.74 890.57,605.58Q893.96,613.48 907.5,694.09" stroke="#dc27be"/><path d="M382.8,720.91Q396.34,687.03 399.73,675.32C404.8,657.75 411.57,617.16 416.65,603.8C421.73,590.43 428.5,587.87 433.58,586.21C438.66,584.56 445.43,591.29 450.5,592.77C455.58,594.25 462.35,588.36 467.43,596.05C472.51,603.74 479.28,644.29 484.35,644.03C489.43,643.76 496.2,600.88 501.28,594.26C506.36,587.64 513.13,598.31 518.21,599.92C523.28,601.53 530.05,598.95 535.13,604.99C540.21,611.02 546.98,637.11 552.06,640.15C557.14,643.19 563.91,625.88 568.98,625.25C574.06,624.63 580.83,643.49 585.91,635.98C590.99,628.47 597.76,582.83 602.84,575.19C607.91,567.54 614.68,575.68 619.76,585.02C624.84,594.36 631.61,627.59 636.69,637.47C641.76,647.35 648.54,650.48 653.61,650.88C658.69,651.28 665.46,650.61 670.54,640.15C675.62,629.69 682.39,590.85 687.46,581.15C692.54,571.45 699.31,575.26 704.39,575.49C709.47,575.71 716.24,570.66 721.32,582.64C726.39,594.62 733.16,644.58 738.24,655.35C743.32,666.12 750.09,653.65 755.17,654.46C760.25,655.26 767.02,659.55 772.09,660.71C777.17,661.88 783.94,670.92 789.02,662.2C794.1,653.49 800.87,612.35 805.95,602.6C811.02,592.86 817.79,585.8 822.87,597.24C827.95,608.68 834.72,677.42 839.8,678.89C844.87,680.37 851.64,616.82 856.72,607.07C861.8,597.33 868.57,614.33 873.65,613.93C878.73,613.53 885.5,592.55 890.57,604.39Q893.96,612.29 907.5,692.9" stroke="#e0a8c0"/></g><g class="dots" stroke="#fff" stroke-width="1"><g fill="#f02aa8"><circle cx="382.8" cy="720.91" r="4.1"/><circle cx="399.73" cy="678" r="4.1"/><circle cx="416.65" cy="613.93" r="4.1"/><circle cx="433.58" cy="590.39" r="4.1"/><circle cx="450.5" cy="600.22" r="4.1"/><circle cx="467.43" cy="598.73" r="4.1"/><circle cx="484.35" cy="651.18" r="4.1"/><circle cx="501.28" cy="598.73" r="4.1"/><circle cx="518.21" cy="604.69" r="4.1"/><circle cx="535.13" cy="607.07" r="4.1"/><circle cx="552.06" cy="649.69" r="4.1"/><circle cx="568.98" cy="617.21" r="4.1"/><circle cx="585.91" cy="649.39" r="4.1"/><circle cx="602.84" cy="586.21" r="4.1"/><circle cx="619.76" cy="588" r="4.1"/><circle cx="636.69" cy="643.73" r="4.1"/><circle cx="653.61" cy="658.03" r="4.1"/><circle cx="670.54" cy="652.97" r="4.1"/><circle cx="687.46" cy="588" r="4.1"/><circle cx="704.39" cy="582.04" r="4.1"/><circle cx="721.32" cy="589.19" r="4.1"/><circle cx="738.24" cy="660.42" r="4.1"/><circle cx="755.17" cy="658.33" r="4.1"/><circle cx="772.09" cy="666.38" r="4.1"/><circle cx="789.02" cy="668.46" r="4.1"/><circle cx="805.95" cy="605.29" r="4.1"/><circle cx="822.87" cy="627.93" r="4.1"/><circle cx="839.8" cy="682.17" r="4.1"/><circle cx="856.72" cy="615.42" r="4.1"/><circle cx="873.65" cy="628.23" r="4.1"/><circle cx="890.57" cy="612.14" r="4.1"/><circle cx="907.5" cy="688.73" r="4.1"/></g><g fill="#956f7b"><circle cx="382.8" cy="720.91" r="4.1"/><circle cx="399.73" cy="674.84" r="4.1"/><circle cx="416.65" cy="608.77" r="4.1"/><circle cx="433.58" cy="582.76" r="4.1"/><circle cx="450.5" cy="592.71" r="4.1"/><circle cx="467.43" cy="590.74" r="4.1"/><circle cx="484.35" cy="647.48" r="4.1"/><circle cx="501.28" cy="591.55" r="4.1"/><circle cx="518.21" cy="598.37" r="4.1"/><circle cx="535.13" cy="600.85" r="4.1"/><circle cx="552.06" cy="644.35" r="4.1"/><circle cx="568.98" cy="613.9" r="4.1"/><circle cx="585.91" cy="642.39" r="4.1"/><circle cx="602.84" cy="580.46" r="4.1"/><circle cx="619.76" cy="579.51" r="4.1"/><circle cx="636.69" cy="640.27" r="4.1"/><circle cx="653.61" cy="654.63" r="4.1"/><circle cx="670.54" cy="646.11" r="4.1"/><circle cx="687.46" cy="578.97" r="4.1"/><circle cx="704.39" cy="573.22" r="4.1"/><circle cx="721.32" cy="581.39" r="4.1"/><circle cx="738.24" cy="657.79" r="4.1"/><circle cx="755.17" cy="650.61" r="4.1"/><circle cx="772.09" cy="661.79" r="4.1"/><circle cx="789.02" cy="665.51" r="4.1"/><circle cx="805.95" cy="598.13" r="4.1"/><circle cx="822.87" cy="620.19" r="4.1"/><circle cx="839.8" cy="680.83" r="4.1"/><circle cx="856.72" cy="608.33" r="4.1"/><circle cx="873.65" cy="619.59" r="4.1"/><circle cx="890.57" cy="604.06" r="4.1"/><circle cx="907.5" cy="687.53" r="4.1"/></g><g fill="#e654d8"><circle cx="382.8" cy="720.91" r="4.1"/><circle cx="399.73" cy="676.48" r="4.1"/><circle cx="416.65" cy="612.02" r="4.1"/><circle cx="433.58" cy="587.35" r="4.1"/><circle cx="450.5" cy="596.23" r="4.1"/><circle cx="467.43" cy="594.59" r="4.1"/><circle cx="484.35" cy="650.05" r="4.1"/><circle cx="501.28" cy="595.63" r="4.1"/><circle cx="518.21" cy="601.23" r="4.1"/><circle cx="535.13" cy="604.27" r="4.1"/><circle cx="552.06" cy="647.87" r="4.1"/><circle cx="568.98" cy="619.17" r="4.1"/><circle cx="585.91" cy="645.55" r="4.1"/><circle cx="602.84" cy="583.95" r="4.1"/><circle cx="619.76" cy="584.66" r="4.1"/><circle cx="636.69" cy="642.15" r="4.1"/><circle cx="653.61" cy="656.45" r="4.1"/><circle cx="670.54" cy="650.43" r="4.1"/><circle cx="687.46" cy="584.1" r="4.1"/><circle cx="704.39" cy="577.12" r="4.1"/><circle cx="721.32" cy="585.44" r="4.1"/><circle cx="738.24" cy="659.79" r="4.1"/><circle cx="755.17" cy="654.72" r="4.1"/><circle cx="772.09" cy="663.96" r="4.1"/><circle cx="789.02" cy="667.48" r="4.1"/><circle cx="805.95" cy="602.6" r="4.1"/><circle cx="822.87" cy="603.02" r="4.1"/><circle cx="839.8" cy="681.75" r="4.1"/><circle cx="856.72" cy="612.74" r="4.1"/><circle cx="873.65" cy="624.63" r="4.1"/><circle cx="890.57" cy="607.73" r="4.1"/><circle cx="907.5" cy="689.95" r="4.1"/></g><g fill="#da1c52"><circle cx="382.8" cy="720.91" r="4.1"/><circle cx="399.73" cy="675.52" r="4.1"/><circle cx="416.65" cy="609.19" r="4.1"/><circle cx="433.58" cy="583.77" r="4.1"/><circle cx="450.5" cy="594.44" r="4.1"/><circle cx="467.43" cy="591.97" r="4.1"/><circle cx="484.35" cy="647.78" r="4.1"/><circle cx="501.28" cy="592.8" r="4.1"/><circle cx="518.21" cy="599.86" r="4.1"/><circle cx="535.13" cy="601.56" r="4.1"/><circle cx="552.06" cy="644.86" r="4.1"/><circle cx="568.98" cy="615.98" r="4.1"/><circle cx="585.91" cy="643.85" r="4.1"/><circle cx="602.84" cy="580.97" r="4.1"/><circle cx="619.76" cy="580.55" r="4.1"/><circle cx="636.69" cy="641.17" r="4.1"/><circle cx="653.61" cy="655.26" r="4.1"/><circle cx="670.54" cy="646.62" r="4.1"/><circle cx="687.46" cy="580.4" r="4.1"/><circle cx="704.39" cy="575.22" r="4.1"/><circle cx="721.32" cy="582.37" r="4.1"/><circle cx="738.24" cy="658.06" r="4.1"/><circle cx="755.17" cy="652.13" r="4.1"/><circle cx="772.09" cy="662.83" r="4.1"/><circle cx="789.02" cy="665.81" r="4.1"/><circle cx="805.95" cy="598.97" r="4.1"/><circle cx="822.87" cy="600.94" r="4.1"/><circle cx="839.8" cy="681.19" r="4.1"/><circle cx="856.72" cy="608.86" r="4.1"/><circle cx="873.65" cy="620.87" r="4.1"/><circle cx="890.57" cy="605.91" r="4.1"/><circle cx="907.5" cy="688.19" r="4.1"/></g><g fill="#cba5c5"><circle cx="382.8" cy="720.91" r="4.1"/><circle cx="399.73" cy="675.7" r="4.1"/><circle cx="416.65" cy="609.99" r="4.1"/><circle cx="433.58" cy="586.33" r="4.1"/><circle cx="450.5" cy="595.9" r="4.1"/><circle cx="467.43" cy="592.2" r="4.1"/><circle cx="484.35" cy="648.73" r="4.1"/><circle cx="501.28" cy="595.12" r="4.1"/><circle cx="518.21" cy="600.61" r="4.1"/><circle cx="535.13" cy="601.95" r="4.1"/><circle cx="552.06" cy="646.53" r="4.1"/><circle cx="568.98" cy="618.85" r="4.1"/><circle cx="585.91" cy="644.23" r="4.1"/><circle cx="602.84" cy="581.71" r="4.1"/><circle cx="619.76" cy="583.32" r="4.1"/><circle cx="636.69" cy="642" r="4.1"/><circle cx="653.61" cy="655.38" r="4.1"/><circle cx="670.54" cy="648.08" r="4.1"/><circle cx="687.46" cy="583.32" r="4.1"/><circle cx="704.39" cy="576.44" r="4.1"/><circle cx="721.32" cy="582.73" r="4.1"/><circle cx="738.24" cy="658.96" r="4.1"/><circle cx="755.17" cy="654.43" r="4.1"/><circle cx="772.09" cy="663.19" r="4.1"/><circle cx="789.02" cy="666.17" r="4.1"/><circle cx="805.95" cy="601.29" r="4.1"/><circle cx="822.87" cy="602.78" r="4.1"/><circle cx="839.8" cy="681.25" r="4.1"/><circle cx="856.72" cy="610.17" r="4.1"/><circle cx="873.65" cy="623.73" r="4.1"/><circle cx="890.57" cy="607.22" r="4.1"/><circle cx="907.5" cy="688.34" r="4.1"/></g><g fill="#fc1f6e"><circle cx="382.8" cy="720.91" r="4.1"/><circle cx="399.73" cy="673.35" r="4.1"/><circle cx="416.65" cy="607.4" r="4.1"/><circle cx="433.58" cy="582.22" r="4.1"/><circle cx="450.5" cy="590.8" r="4.1"/><circle cx="467.43" cy="588" r="4.1"/><circle cx="484.35" cy="646.8" r="4.1"/><circle cx="501.28" cy="590.89" r="4.1"/><circle cx="518.21" cy="596.23" r="4.1"/><circle cx="535.13" cy="598.73" r="4.1"/><circle cx="552.06" cy="643.79" r="4.1"/><circle cx="568.98" cy="612.14" r="4.1"/><circle cx="585.91" cy="654.75" r="4.1"/><circle cx="602.84" cy="578.79" r="4.1"/><circle cx="619.76" cy="578.17" r="4.1"/><circle cx="636.69" cy="639.41" r="4.1"/><circle cx="653.61" cy="653.03" r="4.1"/><circle cx="670.54" cy="644.8" r="4.1"/><circle cx="687.46" cy="578.23" r="4.1"/><circle cx="704.39" cy="570.48" r="4.1"/><circle cx="721.32" cy="578.41" r="4.1"/><circle cx="738.24" cy="657.44" r="4.1"/><circle cx="755.17" cy="649.63" r="4.1"/><circle cx="772.09" cy="659.91" r="4.1"/><circle cx="789.02" cy="664.44" r="4.1"/><circle cx="805.95" cy="597.6" r="4.1"/><circle cx="822.87" cy="597.6" r="4.1"/><circle cx="839.8" cy="679.96" r="4.1"/><circle cx="856.72" cy="606.81" r="4.1"/><circle cx="873.65" cy="622.27" r="4.1"/><circle cx="890.57" cy="601.74" r="4.1"/><circle cx="907.5" cy="685.6" r="4.1"/></g><g fill="#e9c2df"><circle cx="382.8" cy="720.91" r="4.1"/><circle cx="399.73" cy="678.89" r="4.1"/><circle cx="416.65" cy="614.82" r="4.1"/><circle cx="433.58" cy="591.28" r="4.1"/><circle cx="450.5" cy="601.11" r="4.1"/><circle cx="467.43" cy="599.62" r="4.1"/><circle cx="484.35" cy="652.07" r="4.1"/><circle cx="501.28" cy="599.62" r="4.1"/><circle cx="518.21" cy="605.58" r="4.1"/><circle cx="535.13" cy="607.97" r="4.1"/><circle cx="552.06" cy="650.58" r="4.1"/><circle cx="568.98" cy="618.1" r="4.1"/><circle cx="585.91" cy="650.28" r="4.1"/><circle cx="602.84" cy="587.11" r="4.1"/><circle cx="619.76" cy="588.9" r="4.1"/><circle cx="636.69" cy="644.62" r="4.1"/><circle cx="653.61" cy="658.93" r="4.1"/><circle cx="670.54" cy="653.86" r="4.1"/><circle cx="687.46" cy="588.9" r="4.1"/><circle cx="704.39" cy="582.94" r="4.1"/><circle cx="721.32" cy="590.09" r="4.1"/><circle cx="738.24" cy="661.31" r="4.1"/><circle cx="755.17" cy="659.22" r="4.1"/><circle cx="772.09" cy="667.27" r="4.1"/><circle cx="789.02" cy="669.36" r="4.1"/><circle cx="805.95" cy="606.18" r="4.1"/><circle cx="822.87" cy="607.97" r="4.1"/><circle cx="839.8" cy="683.06" r="4.1"/><circle cx="856.72" cy="616.31" r="4.1"/><circle cx="873.65" cy="629.13" r="4.1"/><circle cx="890.57" cy="613.03" r="4.1"/><circle cx="907.5" cy="689.62" r="4.1"/></g><g fill="#b41f9f"><circle cx="382.8" cy="720.91" r="4.1"/><circle cx="399.73" cy="671.44" r="4.1"/><circle cx="416.65" cy="605.29" r="4.1"/><circle cx="433.58" cy="577.57" r="4.1"/><circle cx="450.5" cy="587.11" r="4.1"/><circle cx="467.43" cy="582.94" r="4.1"/><circle cx="484.35" cy="644.92" r="4.1"/><circle cx="501.28" cy="586.81" r="4.1"/><circle cx="518.21" cy="593.07" r="4.1"/><circle cx="535.13" cy="594.56" r="4.1"/><circle cx="552.06" cy="644.62" r="4.1"/><circle cx="568.98" cy="607.07" r="4.1"/><circle cx="585.91" cy="643.73" r="4.1"/><circle cx="602.84" cy="574.89" r="4.1"/><circle cx="619.76" cy="573.7" r="4.1"/><circle cx="636.69" cy="638.96" r="4.1"/><circle cx="653.61" cy="652.97" r="4.1"/><circle cx="670.54" cy="646.41" r="4.1"/><circle cx="687.46" cy="573.1" r="4.1"/><circle cx="704.39" cy="566.25" r="4.1"/><circle cx="721.32" cy="573.7" r="4.1"/><circle cx="738.24" cy="656.84" r="4.1"/><circle cx="755.17" cy="645.52" r="4.1"/><circle cx="772.09" cy="657.44" r="4.1"/><circle cx="789.02" cy="663.4" r="4.1"/><circle cx="805.95" cy="593.07" r="4.1"/><circle cx="822.87" cy="593.66" r="4.1"/><circle cx="839.8" cy="679.49" r="4.1"/><circle cx="856.72" cy="602.01" r="4.1"/><circle cx="873.65" cy="618.1" r="4.1"/><circle cx="890.57" cy="597.84" r="4.1"/><circle cx="907.5" cy="682.77" r="4.1"/></g><g fill="#e6c4cd"><circle cx="382.8" cy="720.91" r="4.1"/><circle cx="399.73" cy="674.42" r="4.1"/><circle cx="416.65" cy="602.9" r="4.1"/><circle cx="433.58" cy="585.32" r="4.1"/><circle cx="450.5" cy="591.88" r="4.1"/><circle cx="467.43" cy="595.15" r="4.1"/><circle cx="484.35" cy="643.13" r="4.1"/><circle cx="501.28" cy="593.37" r="4.1"/><circle cx="518.21" cy="599.03" r="4.1"/><circle cx="535.13" cy="604.09" r="4.1"/><circle cx="552.06" cy="639.26" r="4.1"/><circle cx="568.98" cy="624.36" r="4.1"/><circle cx="585.91" cy="635.09" r="4.1"/><circle cx="602.84" cy="574.29" r="4.1"/><circle cx="619.76" cy="584.13" r="4.1"/><circle cx="636.69" cy="636.58" r="4.1"/><circle cx="653.61" cy="649.99" r="4.1"/><circle cx="670.54" cy="639.26" r="4.1"/><circle cx="687.46" cy="580.25" r="4.1"/><circle cx="704.39" cy="574.59" r="4.1"/><circle cx="721.32" cy="581.74" r="4.1"/><circle cx="738.24" cy="654.46" r="4.1"/><circle cx="755.17" cy="653.56" r="4.1"/><circle cx="772.09" cy="659.82" r="4.1"/><circle cx="789.02" cy="661.31" r="4.1"/><circle cx="805.95" cy="601.71" r="4.1"/><circle cx="822.87" cy="596.35" r="4.1"/><circle cx="839.8" cy="678" r="4.1"/><circle cx="856.72" cy="606.18" r="4.1"/><circle cx="873.65" cy="613.03" r="4.1"/><circle cx="890.57" cy="603.5" r="4.1"/><circle cx="907.5" cy="692" r="4.1"/></g><g fill="#dc27be"><circle cx="382.8" cy="720.91" r="4.1"/><circle cx="399.73" cy="676.51" r="4.1"/><circle cx="416.65" cy="604.99" r="4.1"/><circle cx="433.58" cy="587.41" r="4.1"/><circle cx="450.5" cy="593.96" r="4.1"/><circle cx="467.43" cy="597.24" r="4.1"/><circle cx="484.35" cy="645.22" r="4.1"/><circle cx="501.28" cy="595.45" r="4.1"/><circle cx="518.21" cy="601.11" r="4.1"/><circle cx="535.13" cy="606.18" r="4.1"/><circle cx="552.06" cy="641.34" r="4.1"/><circle cx="568.98" cy="626.44" r="4.1"/><circle cx="585.91" cy="637.17" r="4.1"/><circle cx="602.84" cy="576.38" r="4.1"/><circle cx="619.76" cy="586.21" r="4.1"/><circle cx="636.69" cy="638.66" r="4.1"/><circle cx="653.61" cy="652.07" r="4.1"/><circle cx="670.54" cy="641.34" r="4.1"/><circle cx="687.46" cy="582.34" r="4.1"/><circle cx="704.39" cy="576.68" r="4.1"/><circle cx="721.32" cy="583.83" r="4.1"/><circle cx="738.24" cy="656.54" r="4.1"/><circle cx="755.17" cy="655.65" r="4.1"/><circle cx="772.09" cy="661.91" r="4.1"/><circle cx="789.02" cy="663.4" r="4.1"/><circle cx="805.95" cy="603.8" r="4.1"/><circle cx="822.87" cy="598.43" r="4.1"/><circle cx="839.8" cy="680.08" r="4.1"/><circle cx="856.72" cy="608.27" r="4.1"/><circle cx="873.65" cy="615.12" r="4.1"/><circle cx="890.57" cy="605.58" r="4.1"/><circle cx="907.5" cy="694.09" r="4.1"/></g><g fill="#e0a8c0"><circle cx="382.8" cy="720.91" r="4.1"/><circle cx="399.73" cy="675.32" r="4.1"/><circle cx="416.65" cy="603.8" r="4.1"/><circle cx="433.58" cy="586.21" r="4.1"/><circle cx="450.5" cy="592.77" r="4.1"/><circle cx="467.43" cy="596.05" r="4.1"/><circle cx="484.35" cy="644.03" r="4.1"/><circle cx="501.28" cy="594.26" r="4.1"/><circle cx="518.21" cy="599.92" r="4.1"/><circle cx="535.13" cy="604.99" r="4.1"/><circle cx="552.06" cy="640.15" r="4.1"/><circle cx="568.98" cy="625.25" r="4.1"/><circle cx="585.91" cy="635.98" r="4.1"/><circle cx="602.84" cy="575.19" r="4.1"/><circle cx="619.76" cy="585.02" r="4.1"/><circle cx="636.69" cy="637.47" r="4.1"/><circle cx="653.61" cy="650.88" r="4.1"/><circle cx="670.54" cy="640.15" r="4.1"/><circle cx="687.46" cy="581.15" r="4.1"/><circle cx="704.39" cy="575.49" r="4.1"/><circle cx="721.32" cy="582.64" r="4.1"/><circle cx="738.24" cy="655.35" r="4.1"/><circle cx="755.17" cy="654.46" r="4.1"/><circle cx="772.09" cy="660.71" r="4.1"/><circle cx="789.02" cy="662.2" r="4.1"/><circle cx="805.95" cy="602.6" r="4.1"/><circle cx="822.87" cy="597.24" r="4.1"/><circle cx="839.8" cy="678.89" r="4.1"/><circle cx="856.72" cy="607.07" r="4.1"/><circle cx="873.65" cy="613.93" r="4.1"/><circle cx="890.57" cy="604.39" r="4.1"/><circle cx="907.5" cy="692.9" r="4.1"/></g></g><g class="ax" text-anchor="end"><text x="370" y="489.4">8</text><text x="370" y="549">6</text><text x="370" y="608.6">4</text><text x="370" y="668.2">2</text><text x="370" y="727.8">0</text></g><g class="ax" text-anchor="middle"><text x="399.73" y="746.8">20/3</text><text x="450.5" y="746.8">23/3</text><text x="501.28" y="746.8">26/3</text><text x="552.06" y="746.8">29/3</text><text x="602.84" y="746.8">1/4</text><text x="653.61" y="746.8">4/4</text><text x="704.39" y="746.8">7/4</text><text x="755.17" y="746.8">10/4</text><text x="805.95" y="746.8">13/4</text><text x="856.72" y="746.8">16/4</text><text x="907.5" y="746.8">19/4</text></g></svg></section>
<section class="card" style="left:8px;top:819px;width:302px;height:386px"><svg width="300" height="384" viewBox="9 820 300 384"><g class="ico"><rect x="29" y="841.25" width="15" height="12.75" rx="1.7" fill="#337ab7"/><rect x="30.2" y="844.1" width="3.13" height="1.85" fill="#fff"/><rect x="30.2" y="847.5" width="3.13" height="1.85" fill="#fff"/><rect x="30.2" y="850.9" width="3.13" height="1.85" fill="#fff"/><rect x="34.93" y="844.1" width="3.13" height="1.85" fill="#fff"/><rect x="34.93" y="847.5" width="3.13" height="1.85" fill="#fff"/><rect x="34.93" y="850.9" width="3.13" height="1.85" fill="#fff"/><rect x="39.67" y="844.1" width="3.13" height="1.85" fill="#fff"/><rect x="39.67" y="847.5" width="3.13" height="1.85" fill="#fff"/><rect x="39.67" y="850.9" width="3.13" height="1.85" fill="#fff"/></g><text class="ttl"><tspan x="50.4" y="853.8" textLength="68.5" lengthAdjust="spacingAndGlyphs">GRAFICO</tspan> <tspan x="125.3" y="853.8" textLength="101" lengthAdjust="spacingAndGlyphs">PRODUZIONE</tspan> <tspan x="29.1" y="869.8" textLength="63.7" lengthAdjust="spacingAndGlyphs">SEZIONI</tspan></text><g class="donut" stroke="#fff" stroke-width="3" stroke-linejoin="miter"><path d="M109.98 928.4A115 115 0 0 1 270.77 1006.04L240.31 1013.24A83.7 83.7 0 0 0 123.28 956.73Z" fill="#7da0e8"/><path d="M158.85 1147.5A115 115 0 0 1 45 1048.7L75.99 1044.29A83.7 83.7 0 0 0 158.85 1116.2Z" fill="#335c9f"/><path d="M45 1048.7A115 115 0 0 1 109.98 928.4L123.28 956.73A83.7 83.7 0 0 0 75.99 1044.29Z" fill="#4279ec"/><path d="M275.83 1004.85A120.2 120.2 0 0 1 158.85 1152.7L158.85 1115.6A83.1 83.1 0 0 0 239.72 1013.38Z" fill="#2460c9"/></g><path d="M237.19 1013.98A80.5 80.5 0 0 1 158.85 1113" fill="none" stroke="#2460c9" stroke-width="1.35"/><text x="158.85" y="1026" text-anchor="middle" font-size="23.6" font-weight="700" fill="#000" stroke="#000" stroke-width="0.5">1(84,82 kWp)</text><text x="158.85" y="1056.8" text-anchor="middle" font-size="23.8" font-weight="400" fill="#000" stroke="#000" stroke-width="0.5">8.890,5 kWh</text></svg></section>
<section class="card" style="left:330px;top:819px;width:624px;height:386px"><svg width="622" height="384" viewBox="331 820 622 384"><g class="ico"><rect x="351" y="841.25" width="15" height="12.75" rx="1.7" fill="#337ab7"/><rect x="352.2" y="844.1" width="3.13" height="1.85" fill="#fff"/><rect x="352.2" y="847.5" width="3.13" height="1.85" fill="#fff"/><rect x="352.2" y="850.9" width="3.13" height="1.85" fill="#fff"/><rect x="356.93" y="844.1" width="3.13" height="1.85" fill="#fff"/><rect x="356.93" y="847.5" width="3.13" height="1.85" fill="#fff"/><rect x="356.93" y="850.9" width="3.13" height="1.85" fill="#fff"/><rect x="361.67" y="844.1" width="3.13" height="1.85" fill="#fff"/><rect x="361.67" y="847.5" width="3.13" height="1.85" fill="#fff"/><rect x="361.67" y="850.9" width="3.13" height="1.85" fill="#fff"/></g><text class="ttl"><tspan x="372.6" y="853.8" textLength="100.6" lengthAdjust="spacingAndGlyphs">PRODUZIONE</tspan> <tspan x="479.1" y="853.8" textLength="111.4" lengthAdjust="spacingAndGlyphs">PERCENTUALE</tspan> <tspan x="596.8" y="853.8" textLength="62.9" lengthAdjust="spacingAndGlyphs">SEZIONI</tspan></text><g stroke="#f2f2f2" stroke-width="1"><line x1="398" x2="906" y1="890" y2="890"/><line x1="398" x2="906" y1="949.65" y2="949.65"/><line x1="398" x2="906" y1="1009.3" y2="1009.3"/><line x1="398" x2="906" y1="1068.95" y2="1068.95"/><line x1="398" x2="906" y1="1128.6" y2="1128.6"/></g><g class="bars" shape-rendering="crispEdges"><rect x="398" y="890" width="11.8" height="55.25" fill="#335c9f"/><rect x="398" y="945.25" width="11.8" height="42.79" fill="#4279ec"/><rect x="398" y="988.04" width="11.8" height="69.33" fill="#7da0e8"/><rect x="398" y="1057.37" width="11.8" height="71.23" fill="#2460c9"/><rect x="414" y="890" width="11.8" height="54.17" fill="#335c9f"/><rect x="414" y="944.17" width="11.8" height="47.67" fill="#4279ec"/><rect x="414" y="991.83" width="11.8" height="70.14" fill="#7da0e8"/><rect x="414" y="1061.98" width="11.8" height="66.62" fill="#2460c9"/><rect x="430" y="890" width="11.8" height="53.35" fill="#335c9f"/><rect x="430" y="943.35" width="11.8" height="48.48" fill="#4279ec"/><rect x="430" y="991.83" width="11.8" height="67.71" fill="#7da0e8"/><rect x="430" y="1059.54" width="11.8" height="69.06" fill="#2460c9"/><rect x="446" y="890" width="11.8" height="54.17" fill="#335c9f"/><rect x="446" y="944.17" width="11.8" height="47.67" fill="#4279ec"/><rect x="446" y="991.83" width="11.8" height="69.6" fill="#7da0e8"/><rect x="446" y="1061.43" width="11.8" height="67.17" fill="#2460c9"/><rect x="462" y="890" width="11.8" height="54.17" fill="#335c9f"/><rect x="462" y="944.17" width="11.8" height="47.67" fill="#4279ec"/><rect x="462" y="991.83" width="11.8" height="69.06" fill="#7da0e8"/><rect x="462" y="1060.89" width="11.8" height="67.71" fill="#2460c9"/><rect x="478" y="890" width="11.8" height="55.25" fill="#335c9f"/><rect x="478" y="945.25" width="11.8" height="46.58" fill="#4279ec"/><rect x="478" y="991.83" width="11.8" height="70.69" fill="#7da0e8"/><rect x="478" y="1062.52" width="11.8" height="66.08" fill="#2460c9"/><rect x="494" y="890" width="11.8" height="53.35" fill="#335c9f"/><rect x="494" y="943.35" width="11.8" height="48.48" fill="#4279ec"/><rect x="494" y="991.83" width="11.8" height="67.17" fill="#7da0e8"/><rect x="494" y="1059" width="11.8" height="69.6" fill="#2460c9"/><rect x="510" y="890" width="11.8" height="54.17" fill="#335c9f"/><rect x="510" y="944.17" width="11.8" height="47.67" fill="#4279ec"/><rect x="510" y="991.83" width="11.8" height="69.06" fill="#7da0e8"/><rect x="510" y="1060.89" width="11.8" height="67.71" fill="#2460c9"/><rect x="526" y="890" width="11.8" height="54.17" fill="#335c9f"/><rect x="526" y="944.17" width="11.8" height="47.67" fill="#4279ec"/><rect x="526" y="991.83" width="11.8" height="69.06" fill="#7da0e8"/><rect x="526" y="1060.89" width="11.8" height="67.71" fill="#2460c9"/><rect x="542" y="890" width="11.8" height="55.25" fill="#335c9f"/><rect x="542" y="945.25" width="11.8" height="46.58" fill="#4279ec"/><rect x="542" y="991.83" width="11.8" height="70.14" fill="#7da0e8"/><rect x="542" y="1061.98" width="11.8" height="66.62" fill="#2460c9"/><rect x="558" y="890" width="11.8" height="52.27" fill="#335c9f"/><rect x="558" y="942.27" width="11.8" height="49.56" fill="#4279ec"/><rect x="558" y="991.83" width="11.8" height="66.08" fill="#7da0e8"/><rect x="558" y="1057.91" width="11.8" height="70.69" fill="#2460c9"/><rect x="574" y="890" width="11.8" height="57.14" fill="#335c9f"/><rect x="574" y="947.14" width="11.8" height="44.69" fill="#4279ec"/><rect x="574" y="991.83" width="11.8" height="73.12" fill="#7da0e8"/><rect x="574" y="1064.96" width="11.8" height="63.64" fill="#2460c9"/><rect x="590" y="890" width="11.8" height="49.29" fill="#335c9f"/><rect x="590" y="939.29" width="11.8" height="51.73" fill="#4279ec"/><rect x="590" y="991.02" width="11.8" height="65" fill="#7da0e8"/><rect x="590" y="1056.02" width="11.8" height="72.58" fill="#2460c9"/><rect x="606" y="890" width="11.8" height="53.62" fill="#335c9f"/><rect x="606" y="943.62" width="11.8" height="48.21" fill="#4279ec"/><rect x="606" y="991.83" width="11.8" height="67.98" fill="#7da0e8"/><rect x="606" y="1059.81" width="11.8" height="68.79" fill="#2460c9"/><rect x="622" y="890" width="11.8" height="55.25" fill="#335c9f"/><rect x="622" y="945.25" width="11.8" height="46.58" fill="#4279ec"/><rect x="622" y="991.83" width="11.8" height="70.14" fill="#7da0e8"/><rect x="622" y="1061.98" width="11.8" height="66.62" fill="#2460c9"/><rect x="638" y="890" width="11.8" height="53.62" fill="#335c9f"/><rect x="638" y="943.62" width="11.8" height="48.21" fill="#4279ec"/><rect x="638" y="991.83" width="11.8" height="67.98" fill="#7da0e8"/><rect x="638" y="1059.81" width="11.8" height="68.79" fill="#2460c9"/><rect x="654" y="890" width="11.8" height="53.35" fill="#335c9f"/><rect x="654" y="943.35" width="11.8" height="48.48" fill="#4279ec"/><rect x="654" y="991.83" width="11.8" height="67.17" fill="#7da0e8"/><rect x="654" y="1059" width="11.8" height="69.6" fill="#2460c9"/><rect x="670" y="890" width="11.8" height="51.73" fill="#335c9f"/><rect x="670" y="941.73" width="11.8" height="50.1" fill="#4279ec"/><rect x="670" y="991.83" width="11.8" height="65" fill="#7da0e8"/><rect x="670" y="1056.83" width="11.8" height="71.77" fill="#2460c9"/><rect x="686" y="890" width="11.8" height="54.17" fill="#335c9f"/><rect x="686" y="944.17" width="11.8" height="47.67" fill="#4279ec"/><rect x="686" y="991.83" width="11.8" height="69.06" fill="#7da0e8"/><rect x="686" y="1060.89" width="11.8" height="67.71" fill="#2460c9"/><rect x="702" y="890" width="11.8" height="54.17" fill="#335c9f"/><rect x="702" y="944.17" width="11.8" height="47.67" fill="#4279ec"/><rect x="702" y="991.83" width="11.8" height="69.06" fill="#7da0e8"/><rect x="702" y="1060.89" width="11.8" height="67.71" fill="#2460c9"/><rect x="718" y="890" width="11.8" height="54.17" fill="#335c9f"/><rect x="718" y="944.17" width="11.8" height="47.67" fill="#4279ec"/><rect x="718" y="991.83" width="11.8" height="69.06" fill="#7da0e8"/><rect x="718" y="1060.89" width="11.8" height="67.71" fill="#2460c9"/><rect x="734" y="890" width="11.8" height="53.62" fill="#335c9f"/><rect x="734" y="943.62" width="11.8" height="48.21" fill="#4279ec"/><rect x="734" y="991.83" width="11.8" height="67.98" fill="#7da0e8"/><rect x="734" y="1059.81" width="11.8" height="68.79" fill="#2460c9"/><rect x="750" y="890" width="11.8" height="56.06" fill="#335c9f"/><rect x="750" y="946.06" width="11.8" height="45.77" fill="#4279ec"/><rect x="750" y="991.83" width="11.8" height="72.04" fill="#7da0e8"/><rect x="750" y="1063.87" width="11.8" height="64.73" fill="#2460c9"/><rect x="766" y="890" width="11.8" height="52.27" fill="#335c9f"/><rect x="766" y="942.27" width="11.8" height="48.48" fill="#4279ec"/><rect x="766" y="990.75" width="11.8" height="69.06" fill="#7da0e8"/><rect x="766" y="1059.81" width="11.8" height="68.79" fill="#2460c9"/><rect x="782" y="890" width="11.8" height="52.81" fill="#335c9f"/><rect x="782" y="942.81" width="11.8" height="49.02" fill="#4279ec"/><rect x="782" y="991.83" width="11.8" height="67.17" fill="#7da0e8"/><rect x="782" y="1059" width="11.8" height="69.6" fill="#2460c9"/><rect x="798" y="890" width="11.8" height="54.98" fill="#335c9f"/><rect x="798" y="944.98" width="11.8" height="46.85" fill="#4279ec"/><rect x="798" y="991.83" width="11.8" height="70.14" fill="#7da0e8"/><rect x="798" y="1061.98" width="11.8" height="66.62" fill="#2460c9"/><rect x="814" y="890" width="11.8" height="46.04" fill="#335c9f"/><rect x="814" y="936.04" width="11.8" height="50.1" fill="#4279ec"/><rect x="814" y="986.14" width="11.8" height="70.69" fill="#7da0e8"/><rect x="814" y="1056.83" width="11.8" height="71.77" fill="#2460c9"/><rect x="830" y="890" width="11.8" height="53.62" fill="#335c9f"/><rect x="830" y="943.62" width="11.8" height="48.21" fill="#4279ec"/><rect x="830" y="991.83" width="11.8" height="67.98" fill="#7da0e8"/><rect x="830" y="1059.81" width="11.8" height="68.79" fill="#2460c9"/><rect x="846" y="890" width="11.8" height="54.17" fill="#335c9f"/><rect x="846" y="944.17" width="11.8" height="47.67" fill="#4279ec"/><rect x="846" y="991.83" width="11.8" height="67.98" fill="#7da0e8"/><rect x="846" y="1059.81" width="11.8" height="68.79" fill="#2460c9"/><rect x="862" y="890" width="11.8" height="52.54" fill="#335c9f"/><rect x="862" y="942.54" width="11.8" height="49.29" fill="#4279ec"/><rect x="862" y="991.83" width="11.8" height="66.08" fill="#7da0e8"/><rect x="862" y="1057.91" width="11.8" height="70.69" fill="#2460c9"/><rect x="878" y="890" width="11.8" height="54.17" fill="#335c9f"/><rect x="878" y="944.17" width="11.8" height="47.67" fill="#4279ec"/><rect x="878" y="991.83" width="11.8" height="68.52" fill="#7da0e8"/><rect x="878" y="1060.35" width="11.8" height="68.25" fill="#2460c9"/><rect x="894" y="890" width="11.8" height="60.67" fill="#335c9f"/><rect x="894" y="950.67" width="11.8" height="41.17" fill="#4279ec"/><rect x="894" y="991.83" width="11.8" height="77.73" fill="#7da0e8"/><rect x="894" y="1069.56" width="11.8" height="59.04" fill="#2460c9"/></g><g class="ax" text-anchor="end"><text x="383.2" y="895.2">100</text><text x="383.2" y="954.85">75</text><text x="383.2" y="1014.5">50</text><text x="383.2" y="1074.15">25</text><text x="383.2" y="1133.8">0</text></g><g class="ax" text-anchor="middle"><text x="420" y="1152.5">20/3</text><text x="500" y="1152.5">25/3</text><text x="580" y="1152.5">30/3</text><text x="660" y="1152.5">4/4</text><text x="740" y="1152.5">9/4</text><text x="820" y="1152.5">14/4</text><text x="900" y="1152.5">19/4</text></g></svg></section>
</body></html>
